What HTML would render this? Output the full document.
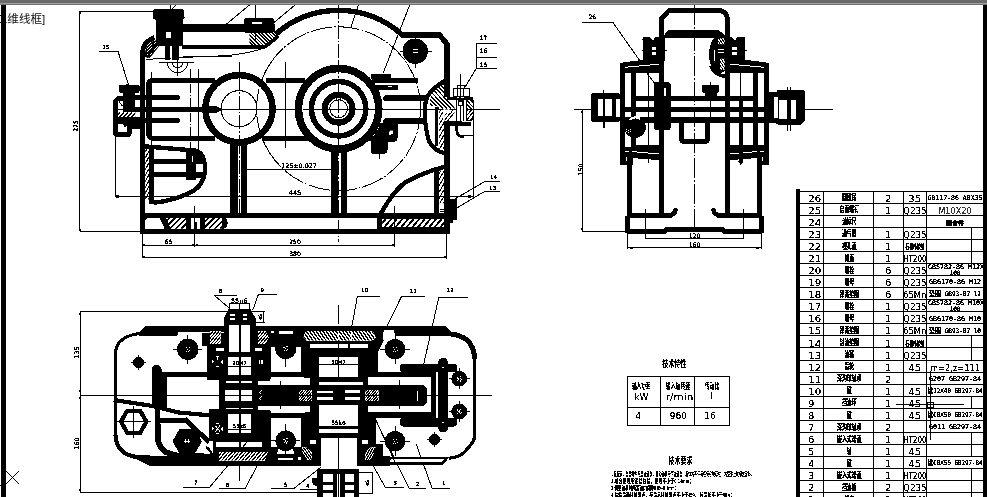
<!DOCTYPE html>
<html><head><meta charset="utf-8"><title>减速器装配图</title>
<style>
html,body{margin:0;padding:0;background:#fff;overflow:hidden}
svg{display:block;position:absolute;left:0;top:0}
text{stroke:none}
.c{font-family:"Liberation Sans","Noto Sans CJK SC",sans-serif}
.s{font-family:"Liberation Serif","Noto Serif CJK SC",serif}
.m{font-family:"DejaVu Sans Mono","Liberation Mono","Noto Sans CJK SC",monospace;font-weight:400}
.n{font-family:"DejaVu Sans","Liberation Sans",sans-serif;font-weight:400}
</style></head><body>
<svg width="987" height="497" viewBox="0 0 987 497" shape-rendering="crispEdges" stroke="#000" stroke-linecap="butt" text-rendering="optimizeSpeed">
<defs><filter id="thr" x="-5%" y="-20%" width="110%" height="140%" color-interpolation-filters="sRGB"><feComponentTransfer><feFuncA type="discrete" tableValues="0 0 1 1 1"/></feComponentTransfer></filter><filter id="thr2" x="-5%" y="-20%" width="110%" height="140%" color-interpolation-filters="sRGB"><feComponentTransfer><feFuncA type="discrete" tableValues="0 1 1 1"/></feComponentTransfer></filter><filter id="thr3" x="-5%" y="-20%" width="110%" height="140%" color-interpolation-filters="sRGB"><feComponentTransfer><feFuncA type="discrete" tableValues="0 0 1 1 1 1"/></feComponentTransfer></filter><filter id="g0" x="-5%" y="-20%" width="110%" height="140%"><feOffset dx="0" dy="0"/></filter></defs>
<rect x="0" y="0" width="987" height="497" fill="#fff" stroke="none"/>
<rect x="0" y="0" width="987" height="3" fill="#696969" stroke="none" />
<rect x="0" y="3" width="987" height="1" fill="#a0a0a0" stroke="none" />
<rect x="0" y="4" width="987" height="1" fill="#727272" stroke="none" />
<text x="45.3" y="23.4" font-size="11.6" text-anchor="end" class="c" fill="#111" font-weight="400" filter="url(#g0)">二维线框]</text>
<rect x="1" y="5" width="5" height="492" fill="#000" stroke="none" />
<rect x="983" y="5" width="4" height="492" fill="#000" stroke="none" />
<line x1="6" y1="471" x2="19" y2="484" stroke-width="1" />
<line x1="6" y1="484" x2="19" y2="471" stroke-width="1" />
<line x1="0" y1="485" x2="3" y2="485" stroke-width="1" />
<rect x="796.3" y="188.9" width="3.8" height="308.1" fill="#000" stroke="none" />
<line x1="800" y1="191" x2="983.2" y2="191" stroke-width="1" />
<line x1="800" y1="203.07" x2="983.2" y2="203.07" stroke-width="1" />
<line x1="800" y1="215.15" x2="983.2" y2="215.15" stroke-width="1" />
<line x1="800" y1="227.22" x2="983.2" y2="227.22" stroke-width="1" />
<line x1="800" y1="239.3" x2="983.2" y2="239.3" stroke-width="1" />
<line x1="800" y1="251.38" x2="983.2" y2="251.38" stroke-width="1" />
<line x1="800" y1="263.45" x2="983.2" y2="263.45" stroke-width="1" />
<line x1="800" y1="275.52" x2="983.2" y2="275.52" stroke-width="1" />
<line x1="800" y1="287.6" x2="983.2" y2="287.6" stroke-width="1" />
<line x1="800" y1="299.68" x2="983.2" y2="299.68" stroke-width="1" />
<line x1="800" y1="311.75" x2="983.2" y2="311.75" stroke-width="1" />
<line x1="800" y1="323.82" x2="983.2" y2="323.82" stroke-width="1" />
<line x1="800" y1="335.9" x2="983.2" y2="335.9" stroke-width="1" />
<line x1="800" y1="347.98" x2="983.2" y2="347.98" stroke-width="1" />
<line x1="800" y1="360.05" x2="983.2" y2="360.05" stroke-width="1" />
<line x1="800" y1="372.12" x2="983.2" y2="372.12" stroke-width="1" />
<line x1="800" y1="384.2" x2="983.2" y2="384.2" stroke-width="1" />
<line x1="800" y1="396.27" x2="983.2" y2="396.27" stroke-width="1" />
<line x1="800" y1="408.35" x2="983.2" y2="408.35" stroke-width="1" />
<line x1="800" y1="420.42" x2="983.2" y2="420.42" stroke-width="1" />
<line x1="800" y1="432.5" x2="983.2" y2="432.5" stroke-width="1" />
<line x1="800" y1="444.57" x2="983.2" y2="444.57" stroke-width="1" />
<line x1="800" y1="456.65" x2="983.2" y2="456.65" stroke-width="1" />
<line x1="800" y1="468.72" x2="983.2" y2="468.72" stroke-width="1" />
<line x1="800" y1="480.8" x2="983.2" y2="480.8" stroke-width="1" />
<line x1="800" y1="492.88" x2="983.2" y2="492.88" stroke-width="1" />
<line x1="823.8" y1="191" x2="823.8" y2="497" stroke-width="1" />
<line x1="873.4" y1="191" x2="873.4" y2="497" stroke-width="1" />
<line x1="903.2" y1="191" x2="903.2" y2="497" stroke-width="1" />
<line x1="926.4" y1="191" x2="926.4" y2="497" stroke-width="1" />
<line x1="971.5" y1="227.22" x2="971.5" y2="239.3" stroke-width="1" />
<line x1="971.5" y1="239.3" x2="971.5" y2="251.38" stroke-width="1" />
<line x1="971.5" y1="251.38" x2="971.5" y2="263.45" stroke-width="1" />
<line x1="971.5" y1="335.9" x2="971.5" y2="347.97" stroke-width="1" />
<line x1="971.5" y1="347.98" x2="971.5" y2="360.05" stroke-width="1" />
<line x1="971.5" y1="396.27" x2="971.5" y2="408.35" stroke-width="1" />
<line x1="971.5" y1="432.5" x2="971.5" y2="444.57" stroke-width="1" />
<line x1="971.5" y1="444.57" x2="971.5" y2="456.65" stroke-width="1" />
<line x1="971.5" y1="468.72" x2="971.5" y2="480.8" stroke-width="1" />
<line x1="971.5" y1="480.8" x2="971.5" y2="492.87" stroke-width="1" />
<line x1="971.5" y1="492.88" x2="971.5" y2="504.95" stroke-width="1" />
<text x="808.3" y="201.6" font-size="8.8" text-anchor="start" class="n" textLength="13" lengthAdjust="spacingAndGlyphs" filter="url(#thr)">26</text>
<text x="849.3" y="200.2" font-size="7.8" text-anchor="middle" class="c" font-weight="900" textLength="14.7" lengthAdjust="spacingAndGlyphs" filter="url(#thr)">圆锥销</text>
<text x="888.3" y="201.6" font-size="8.8" text-anchor="middle" class="n" textLength="6.5" lengthAdjust="spacingAndGlyphs" filter="url(#thr)">2</text>
<text x="914.8" y="201.6" font-size="8.8" text-anchor="middle" class="n" textLength="13" lengthAdjust="spacingAndGlyphs" filter="url(#thr)">35</text>
<text x="955" y="199.8" font-size="6.4" text-anchor="middle" class="m" textLength="55" lengthAdjust="spacingAndGlyphs" filter="url(#thr2)">GB117-86 A8X35</text>
<text x="808.3" y="213.67" font-size="8.8" text-anchor="start" class="n" textLength="13" lengthAdjust="spacingAndGlyphs" filter="url(#thr)">25</text>
<text x="849.3" y="212.27" font-size="7.8" text-anchor="middle" class="c" font-weight="900" textLength="19.6" lengthAdjust="spacingAndGlyphs" filter="url(#thr)">启盖螺钉</text>
<text x="888.3" y="213.67" font-size="8.8" text-anchor="middle" class="n" textLength="6.5" lengthAdjust="spacingAndGlyphs" filter="url(#thr)">1</text>
<text x="903" y="213.67" font-size="8.6" text-anchor="start" class="n" textLength="23.6" lengthAdjust="spacingAndGlyphs" filter="url(#thr)">Q235</text>
<text x="955" y="213.67" font-size="8.2" text-anchor="middle" class="n" fill="#333" filter="url(#thr)">M10X20</text>
<text x="808.3" y="225.75" font-size="8.8" text-anchor="start" class="n" textLength="13" lengthAdjust="spacingAndGlyphs" filter="url(#thr)">24</text>
<text x="849.3" y="224.35" font-size="7.8" text-anchor="middle" class="c" font-weight="900" textLength="14.7" lengthAdjust="spacingAndGlyphs" filter="url(#thr)">油标尺</text>
<text x="955" y="224.55" font-size="6.2" text-anchor="middle" class="c" font-weight="900" filter="url(#thr2)">组合件</text>
<text x="808.3" y="237.82" font-size="8.8" text-anchor="start" class="n" textLength="13" lengthAdjust="spacingAndGlyphs" filter="url(#thr)">23</text>
<text x="849.3" y="236.42" font-size="7.8" text-anchor="middle" class="c" font-weight="900" textLength="14.7" lengthAdjust="spacingAndGlyphs" filter="url(#thr)">通气器</text>
<text x="888.3" y="237.82" font-size="8.8" text-anchor="middle" class="n" textLength="6.5" lengthAdjust="spacingAndGlyphs" filter="url(#thr)">1</text>
<text x="903" y="237.82" font-size="8.6" text-anchor="start" class="n" textLength="23.6" lengthAdjust="spacingAndGlyphs" filter="url(#thr)">Q235</text>
<text x="808.3" y="249.9" font-size="8.8" text-anchor="start" class="n" textLength="13" lengthAdjust="spacingAndGlyphs" filter="url(#thr)">22</text>
<text x="849.3" y="248.5" font-size="7.8" text-anchor="middle" class="c" font-weight="900" textLength="14.7" lengthAdjust="spacingAndGlyphs" filter="url(#thr)">视孔盖</text>
<text x="888.3" y="249.9" font-size="8.8" text-anchor="middle" class="n" textLength="6.5" lengthAdjust="spacingAndGlyphs" filter="url(#thr)">1</text>
<text x="915" y="249.1" font-size="7.4" text-anchor="middle" class="c" font-weight="700" textLength="19.5" lengthAdjust="spacingAndGlyphs" filter="url(#thr)">石棉橡胶纸</text>
<text x="808.3" y="261.98" font-size="8.8" text-anchor="start" class="n" textLength="13" lengthAdjust="spacingAndGlyphs" filter="url(#thr)">21</text>
<text x="849.3" y="260.57" font-size="7.8" text-anchor="middle" class="c" font-weight="900" textLength="9.8" lengthAdjust="spacingAndGlyphs" filter="url(#thr)">箱盖</text>
<text x="888.3" y="261.98" font-size="8.8" text-anchor="middle" class="n" textLength="6.5" lengthAdjust="spacingAndGlyphs" filter="url(#thr)">1</text>
<text x="903" y="261.98" font-size="8.6" text-anchor="start" class="n" textLength="23.6" lengthAdjust="spacingAndGlyphs" filter="url(#thr)">HT200</text>
<text x="808.3" y="274.05" font-size="8.8" text-anchor="start" class="n" textLength="13" lengthAdjust="spacingAndGlyphs" filter="url(#thr)">20</text>
<text x="849.3" y="272.65" font-size="7.8" text-anchor="middle" class="c" font-weight="900" textLength="9.8" lengthAdjust="spacingAndGlyphs" filter="url(#thr)">螺栓</text>
<text x="888.3" y="274.05" font-size="8.8" text-anchor="middle" class="n" textLength="6.5" lengthAdjust="spacingAndGlyphs" filter="url(#thr)">6</text>
<text x="903" y="274.05" font-size="8.6" text-anchor="start" class="n" textLength="23.6" lengthAdjust="spacingAndGlyphs" filter="url(#thr)">Q235</text>
<text x="928" y="268.85" font-size="6.2" text-anchor="start" class="m" textLength="56" lengthAdjust="spacingAndGlyphs" filter="url(#thr2)">GB5782-86 M12X</text>
<text x="955" y="275.05" font-size="6.2" text-anchor="middle" class="m" filter="url(#thr2)">100</text>
<text x="808.3" y="286.12" font-size="8.8" text-anchor="start" class="n" textLength="13" lengthAdjust="spacingAndGlyphs" filter="url(#thr)">19</text>
<text x="849.3" y="284.72" font-size="7.8" text-anchor="middle" class="c" font-weight="900" textLength="9.8" lengthAdjust="spacingAndGlyphs" filter="url(#thr)">螺母</text>
<text x="888.3" y="286.12" font-size="8.8" text-anchor="middle" class="n" textLength="6.5" lengthAdjust="spacingAndGlyphs" filter="url(#thr)">6</text>
<text x="903" y="286.12" font-size="8.6" text-anchor="start" class="n" textLength="23.6" lengthAdjust="spacingAndGlyphs" filter="url(#thr)">Q235</text>
<text x="955" y="284.32" font-size="6.4" text-anchor="middle" class="m" textLength="52" lengthAdjust="spacingAndGlyphs" filter="url(#thr2)">GB6170-86 M12</text>
<text x="808.3" y="298.2" font-size="8.8" text-anchor="start" class="n" textLength="13" lengthAdjust="spacingAndGlyphs" filter="url(#thr)">18</text>
<text x="849.3" y="296.8" font-size="7.8" text-anchor="middle" class="c" font-weight="900" textLength="19.6" lengthAdjust="spacingAndGlyphs" filter="url(#thr)">弹簧垫圈</text>
<text x="888.3" y="298.2" font-size="8.8" text-anchor="middle" class="n" textLength="6.5" lengthAdjust="spacingAndGlyphs" filter="url(#thr)">6</text>
<text x="903" y="298.2" font-size="8.6" text-anchor="start" class="n" textLength="23.6" lengthAdjust="spacingAndGlyphs" filter="url(#thr)">65Mn</text>
<text x="955" y="296.4" font-size="6.4" text-anchor="middle" class="m" textLength="52" lengthAdjust="spacingAndGlyphs" filter="url(#thr2)">垫圈 GB93-87 12</text>
<text x="808.3" y="310.28" font-size="8.8" text-anchor="start" class="n" textLength="13" lengthAdjust="spacingAndGlyphs" filter="url(#thr)">17</text>
<text x="849.3" y="308.88" font-size="7.8" text-anchor="middle" class="c" font-weight="900" textLength="9.8" lengthAdjust="spacingAndGlyphs" filter="url(#thr)">螺栓</text>
<text x="888.3" y="310.28" font-size="8.8" text-anchor="middle" class="n" textLength="6.5" lengthAdjust="spacingAndGlyphs" filter="url(#thr)">1</text>
<text x="903" y="310.28" font-size="8.6" text-anchor="start" class="n" textLength="23.6" lengthAdjust="spacingAndGlyphs" filter="url(#thr)">Q235</text>
<text x="928" y="305.07" font-size="6.2" text-anchor="start" class="m" textLength="56" lengthAdjust="spacingAndGlyphs" filter="url(#thr2)">GB5782-86 M10X</text>
<text x="955" y="311.28" font-size="6.2" text-anchor="middle" class="m" filter="url(#thr2)">100</text>
<text x="808.3" y="322.35" font-size="8.8" text-anchor="start" class="n" textLength="13" lengthAdjust="spacingAndGlyphs" filter="url(#thr)">16</text>
<text x="849.3" y="320.95" font-size="7.8" text-anchor="middle" class="c" font-weight="900" textLength="9.8" lengthAdjust="spacingAndGlyphs" filter="url(#thr)">螺母</text>
<text x="888.3" y="322.35" font-size="8.8" text-anchor="middle" class="n" textLength="6.5" lengthAdjust="spacingAndGlyphs" filter="url(#thr)">1</text>
<text x="903" y="322.35" font-size="8.6" text-anchor="start" class="n" textLength="23.6" lengthAdjust="spacingAndGlyphs" filter="url(#thr)">Q235</text>
<text x="955" y="320.55" font-size="6.4" text-anchor="middle" class="m" textLength="52" lengthAdjust="spacingAndGlyphs" filter="url(#thr2)">GB6170-86 M10</text>
<text x="808.3" y="334.43" font-size="8.8" text-anchor="start" class="n" textLength="13" lengthAdjust="spacingAndGlyphs" filter="url(#thr)">15</text>
<text x="849.3" y="333.02" font-size="7.8" text-anchor="middle" class="c" font-weight="900" textLength="19.6" lengthAdjust="spacingAndGlyphs" filter="url(#thr)">弹簧垫圈</text>
<text x="888.3" y="334.43" font-size="8.8" text-anchor="middle" class="n" textLength="6.5" lengthAdjust="spacingAndGlyphs" filter="url(#thr)">1</text>
<text x="903" y="334.43" font-size="8.6" text-anchor="start" class="n" textLength="23.6" lengthAdjust="spacingAndGlyphs" filter="url(#thr)">65Mn</text>
<text x="955" y="332.62" font-size="6.4" text-anchor="middle" class="m" textLength="52" lengthAdjust="spacingAndGlyphs" filter="url(#thr2)">垫圈 GB93-87 10</text>
<text x="808.3" y="346.5" font-size="8.8" text-anchor="start" class="n" textLength="13" lengthAdjust="spacingAndGlyphs" filter="url(#thr)">14</text>
<text x="849.3" y="345.1" font-size="7.8" text-anchor="middle" class="c" font-weight="900" textLength="19.6" lengthAdjust="spacingAndGlyphs" filter="url(#thr)">封油垫圈</text>
<text x="888.3" y="346.5" font-size="8.8" text-anchor="middle" class="n" textLength="6.5" lengthAdjust="spacingAndGlyphs" filter="url(#thr)">1</text>
<text x="915" y="345.7" font-size="7.4" text-anchor="middle" class="c" font-weight="700" textLength="19.5" lengthAdjust="spacingAndGlyphs" filter="url(#thr)">石棉橡胶纸</text>
<text x="808.3" y="358.58" font-size="8.8" text-anchor="start" class="n" textLength="13" lengthAdjust="spacingAndGlyphs" filter="url(#thr)">13</text>
<text x="849.3" y="357.18" font-size="7.8" text-anchor="middle" class="c" font-weight="900" textLength="9.8" lengthAdjust="spacingAndGlyphs" filter="url(#thr)">油塞</text>
<text x="888.3" y="358.58" font-size="8.8" text-anchor="middle" class="n" textLength="6.5" lengthAdjust="spacingAndGlyphs" filter="url(#thr)">1</text>
<text x="903" y="358.58" font-size="8.6" text-anchor="start" class="n" textLength="23.6" lengthAdjust="spacingAndGlyphs" filter="url(#thr)">Q235</text>
<text x="808.3" y="370.65" font-size="8.8" text-anchor="start" class="n" textLength="13" lengthAdjust="spacingAndGlyphs" filter="url(#thr)">12</text>
<text x="849.3" y="369.25" font-size="7.8" text-anchor="middle" class="c" font-weight="900" textLength="9.8" lengthAdjust="spacingAndGlyphs" filter="url(#thr)">齿轮</text>
<text x="888.3" y="370.65" font-size="8.8" text-anchor="middle" class="n" textLength="6.5" lengthAdjust="spacingAndGlyphs" filter="url(#thr)">1</text>
<text x="914.8" y="370.65" font-size="8.8" text-anchor="middle" class="n" textLength="13" lengthAdjust="spacingAndGlyphs" filter="url(#thr)">45</text>
<text x="955" y="370.65" font-size="8.6" text-anchor="middle" class="n" textLength="50" lengthAdjust="spacingAndGlyphs" filter="url(#thr)">m=2,z=111</text>
<text x="808.3" y="382.73" font-size="8.8" text-anchor="start" class="n" textLength="13" lengthAdjust="spacingAndGlyphs" filter="url(#thr)">11</text>
<text x="849.3" y="381.32" font-size="7.8" text-anchor="middle" class="c" font-weight="900" textLength="24.5" lengthAdjust="spacingAndGlyphs" filter="url(#thr)">深沟球轴承</text>
<text x="888.3" y="382.73" font-size="8.8" text-anchor="middle" class="n" textLength="6.5" lengthAdjust="spacingAndGlyphs" filter="url(#thr)">2</text>
<text x="955" y="380.93" font-size="6.4" text-anchor="middle" class="m" textLength="52" lengthAdjust="spacingAndGlyphs" filter="url(#thr2)">6207 GB297-84</text>
<text x="808.3" y="394.8" font-size="8.8" text-anchor="start" class="n" textLength="13" lengthAdjust="spacingAndGlyphs" filter="url(#thr)">10</text>
<text x="849.3" y="393.4" font-size="7.8" text-anchor="middle" class="c" font-weight="900" textLength="4.9" lengthAdjust="spacingAndGlyphs" filter="url(#thr)">键</text>
<text x="888.3" y="394.8" font-size="8.8" text-anchor="middle" class="n" textLength="6.5" lengthAdjust="spacingAndGlyphs" filter="url(#thr)">1</text>
<text x="914.8" y="394.8" font-size="8.8" text-anchor="middle" class="n" textLength="13" lengthAdjust="spacingAndGlyphs" filter="url(#thr)">45</text>
<text x="955" y="393" font-size="6.4" text-anchor="middle" class="m" textLength="55" lengthAdjust="spacingAndGlyphs" filter="url(#thr2)">键12X40 GB297-84</text>
<text x="808.3" y="406.88" font-size="8.8" text-anchor="start" class="n" textLength="6" lengthAdjust="spacingAndGlyphs" filter="url(#thr)">9</text>
<text x="849.3" y="405.47" font-size="7.8" text-anchor="middle" class="c" font-weight="900" textLength="14.7" lengthAdjust="spacingAndGlyphs" filter="url(#thr)">挡油环</text>
<text x="888.3" y="406.88" font-size="8.8" text-anchor="middle" class="n" textLength="6.5" lengthAdjust="spacingAndGlyphs" filter="url(#thr)">1</text>
<text x="914.8" y="406.88" font-size="8.8" text-anchor="middle" class="n" textLength="13" lengthAdjust="spacingAndGlyphs" filter="url(#thr)">45</text>
<text x="808.3" y="418.95" font-size="8.8" text-anchor="start" class="n" textLength="6" lengthAdjust="spacingAndGlyphs" filter="url(#thr)">8</text>
<text x="849.3" y="417.55" font-size="7.8" text-anchor="middle" class="c" font-weight="900" textLength="4.9" lengthAdjust="spacingAndGlyphs" filter="url(#thr)">键</text>
<text x="888.3" y="418.95" font-size="8.8" text-anchor="middle" class="n" textLength="6.5" lengthAdjust="spacingAndGlyphs" filter="url(#thr)">1</text>
<text x="914.8" y="418.95" font-size="8.8" text-anchor="middle" class="n" textLength="13" lengthAdjust="spacingAndGlyphs" filter="url(#thr)">45</text>
<text x="955" y="417.15" font-size="6.4" text-anchor="middle" class="m" textLength="55" lengthAdjust="spacingAndGlyphs" filter="url(#thr2)">键C8X50 GB297-84</text>
<text x="808.3" y="431.02" font-size="8.8" text-anchor="start" class="n" textLength="6" lengthAdjust="spacingAndGlyphs" filter="url(#thr)">7</text>
<text x="849.3" y="429.62" font-size="7.8" text-anchor="middle" class="c" font-weight="900" textLength="24.5" lengthAdjust="spacingAndGlyphs" filter="url(#thr)">深沟球轴承</text>
<text x="888.3" y="431.02" font-size="8.8" text-anchor="middle" class="n" textLength="6.5" lengthAdjust="spacingAndGlyphs" filter="url(#thr)">2</text>
<text x="955" y="429.22" font-size="6.4" text-anchor="middle" class="m" textLength="52" lengthAdjust="spacingAndGlyphs" filter="url(#thr2)">6011 GB297-84</text>
<text x="808.3" y="443.1" font-size="8.8" text-anchor="start" class="n" textLength="6" lengthAdjust="spacingAndGlyphs" filter="url(#thr)">6</text>
<text x="849.3" y="441.7" font-size="7.8" text-anchor="middle" class="c" font-weight="900" textLength="24.5" lengthAdjust="spacingAndGlyphs" filter="url(#thr)">嵌入式端盖</text>
<text x="888.3" y="443.1" font-size="8.8" text-anchor="middle" class="n" textLength="6.5" lengthAdjust="spacingAndGlyphs" filter="url(#thr)">1</text>
<text x="903" y="443.1" font-size="8.6" text-anchor="start" class="n" textLength="23.6" lengthAdjust="spacingAndGlyphs" filter="url(#thr)">HT200</text>
<text x="808.3" y="455.18" font-size="8.8" text-anchor="start" class="n" textLength="6" lengthAdjust="spacingAndGlyphs" filter="url(#thr)">5</text>
<text x="849.3" y="453.77" font-size="7.8" text-anchor="middle" class="c" font-weight="900" textLength="4.9" lengthAdjust="spacingAndGlyphs" filter="url(#thr)">轴</text>
<text x="888.3" y="455.18" font-size="8.8" text-anchor="middle" class="n" textLength="6.5" lengthAdjust="spacingAndGlyphs" filter="url(#thr)">1</text>
<text x="914.8" y="455.18" font-size="8.8" text-anchor="middle" class="n" textLength="13" lengthAdjust="spacingAndGlyphs" filter="url(#thr)">45</text>
<text x="808.3" y="467.25" font-size="8.8" text-anchor="start" class="n" textLength="6" lengthAdjust="spacingAndGlyphs" filter="url(#thr)">4</text>
<text x="849.3" y="465.85" font-size="7.8" text-anchor="middle" class="c" font-weight="900" textLength="4.9" lengthAdjust="spacingAndGlyphs" filter="url(#thr)">键</text>
<text x="888.3" y="467.25" font-size="8.8" text-anchor="middle" class="n" textLength="6.5" lengthAdjust="spacingAndGlyphs" filter="url(#thr)">1</text>
<text x="914.8" y="467.25" font-size="8.8" text-anchor="middle" class="n" textLength="13" lengthAdjust="spacingAndGlyphs" filter="url(#thr)">45</text>
<text x="955" y="465.45" font-size="6.4" text-anchor="middle" class="m" textLength="55" lengthAdjust="spacingAndGlyphs" filter="url(#thr2)">键C8X55 GB297-84</text>
<text x="808.3" y="479.32" font-size="8.8" text-anchor="start" class="n" textLength="6" lengthAdjust="spacingAndGlyphs" filter="url(#thr)">3</text>
<text x="849.3" y="477.92" font-size="7.8" text-anchor="middle" class="c" font-weight="900" textLength="24.5" lengthAdjust="spacingAndGlyphs" filter="url(#thr)">嵌入式端盖</text>
<text x="888.3" y="479.32" font-size="8.8" text-anchor="middle" class="n" textLength="6.5" lengthAdjust="spacingAndGlyphs" filter="url(#thr)">1</text>
<text x="903" y="479.32" font-size="8.6" text-anchor="start" class="n" textLength="23.6" lengthAdjust="spacingAndGlyphs" filter="url(#thr)">HT200</text>
<text x="808.3" y="491.4" font-size="8.8" text-anchor="start" class="n" textLength="6" lengthAdjust="spacingAndGlyphs" filter="url(#thr)">2</text>
<text x="849.3" y="490" font-size="7.8" text-anchor="middle" class="c" font-weight="900" textLength="14.7" lengthAdjust="spacingAndGlyphs" filter="url(#thr)">挡油板</text>
<text x="888.3" y="491.4" font-size="8.8" text-anchor="middle" class="n" textLength="6.5" lengthAdjust="spacingAndGlyphs" filter="url(#thr)">2</text>
<text x="903" y="491.4" font-size="8.6" text-anchor="start" class="n" textLength="23.6" lengthAdjust="spacingAndGlyphs" filter="url(#thr)">Q235</text>
<text x="808.3" y="503.48" font-size="8.8" text-anchor="start" class="n" textLength="6" lengthAdjust="spacingAndGlyphs" filter="url(#thr)">1</text>
<text x="849.3" y="502.07" font-size="7.8" text-anchor="middle" class="c" font-weight="900" textLength="9.8" lengthAdjust="spacingAndGlyphs" filter="url(#thr)">箱座</text>
<text x="888.3" y="503.48" font-size="8.8" text-anchor="middle" class="n" textLength="6.5" lengthAdjust="spacingAndGlyphs" filter="url(#thr)">1</text>
<text x="903" y="503.48" font-size="8.6" text-anchor="start" class="n" textLength="23.6" lengthAdjust="spacingAndGlyphs" filter="url(#thr)">HT200</text>
<line x1="895.5" y1="404.9" x2="964" y2="404.9" stroke-width="1" />
<line x1="930.3" y1="371" x2="930.3" y2="440" stroke-width="1" />
<rect x="927" y="402.5" width="6.5" height="5" fill="none" stroke-width="1" />
<rect x="627.3" y="376.3" width="102.4" height="49" fill="none" stroke-width="1" />
<line x1="660.5" y1="376.3" x2="660.5" y2="425.3" stroke-width="1" />
<line x1="694.7" y1="376.3" x2="694.7" y2="425.3" stroke-width="1" />
<line x1="627.3" y1="407.2" x2="729.7" y2="407.2" stroke-width="1" />
<text x="674.2" y="367.4" font-size="9.4" text-anchor="middle" class="c" font-weight="700" textLength="23.8" lengthAdjust="spacingAndGlyphs" filter="url(#thr)">技术特性</text>
<text x="641.2" y="389.4" font-size="7.6" text-anchor="middle" class="c" font-weight="700" textLength="18" lengthAdjust="spacingAndGlyphs" filter="url(#thr)">输入功率</text>
<text x="678" y="389.4" font-size="7.6" text-anchor="middle" class="c" font-weight="700" textLength="24.5" lengthAdjust="spacingAndGlyphs" filter="url(#thr)">输入轴转速</text>
<text x="712.1" y="389.4" font-size="7.6" text-anchor="middle" class="c" font-weight="700" textLength="14" lengthAdjust="spacingAndGlyphs" filter="url(#thr)">传动比</text>
<text x="641.4" y="400.2" font-size="9" text-anchor="middle" class="n" filter="url(#thr)">kW</text>
<text x="679.5" y="399.6" font-size="8.8" text-anchor="middle" class="n" textLength="27.5" lengthAdjust="spacingAndGlyphs" filter="url(#thr)">r/min</text>
<text x="711.9" y="399.4" font-size="9.4" text-anchor="middle" class="n" filter="url(#thr)">l</text>
<text x="638.2" y="418.8" font-size="9" text-anchor="middle" class="n" filter="url(#thr)">4</text>
<text x="678.4" y="419.4" font-size="9" text-anchor="middle" class="n" filter="url(#thr)">960</text>
<text x="710" y="418.8" font-size="9" text-anchor="middle" class="n" filter="url(#thr)">16</text>
<text x="680.5" y="464.2" font-size="9.4" text-anchor="middle" class="c" font-weight="700" textLength="23.8" lengthAdjust="spacingAndGlyphs" filter="url(#thr)">技术要求</text>
<text x="611.2" y="476.4" font-size="5.4" text-anchor="start" class="c" font-weight="700" textLength="142.6" lengthAdjust="spacingAndGlyphs" filter="url(#thr)">1.装配前，全部零件用煤油清洗，滚动轴承用汽油清洗，箱体内不许有任何杂物存在，内壁涂上防侵蚀涂料；</text>
<text x="611.2" y="482.8" font-size="5.4" text-anchor="start" class="c" font-weight="700" textLength="82" lengthAdjust="spacingAndGlyphs" filter="url(#thr)">2.啮合侧隙用铅丝检验，侧隙不小于0.14mm；</text>
<text x="611.2" y="489.5" font-size="5.4" text-anchor="start" class="c" font-weight="700" textLength="67" lengthAdjust="spacingAndGlyphs" filter="url(#thr)">3.调整轴承时所留轴向间隙0.05~0.1mm；</text>
<text x="611.2" y="496.6" font-size="5.4" text-anchor="start" class="c" font-weight="700" textLength="123.4" lengthAdjust="spacingAndGlyphs" filter="url(#thr)">4.检验齿面接触斑点，按齿高接触斑点不小于45%，按齿长不小于60%；</text>
<line x1="114" y1="109.5" x2="500" y2="109.5" stroke-width="1" />
<line x1="338.6" y1="5" x2="338.6" y2="241.6" stroke-width="1" stroke-dasharray="14 2 1.5 2"/>
<line x1="239" y1="62" x2="239" y2="215" stroke-width="1" stroke-dasharray="14 2 1.5 2"/>
<circle cx="338.6" cy="108.7" r="82" stroke-width="1" fill="none" stroke-dasharray="22 2 1.5 2"/>
<line x1="151.3" y1="72" x2="151.3" y2="204" stroke-width="1" />
<line x1="190.2" y1="69" x2="190.2" y2="150" stroke-width="1" stroke-dasharray="9 2 1.5 2"/>
<line x1="198.5" y1="69" x2="198.5" y2="150" stroke-width="1" />
<line x1="285.5" y1="62" x2="285.5" y2="148" stroke-width="1" />
<line x1="379.8" y1="118" x2="379.8" y2="158.5" stroke-width="1" />
<line x1="226.6" y1="24" x2="249.4" y2="5" stroke-width="1" />
<line x1="272.2" y1="24" x2="295" y2="5" stroke-width="1" />
<line x1="172" y1="9" x2="176" y2="5" stroke-width="1" />
<line x1="170.3" y1="9" x2="170.3" y2="5" stroke-width="1" />
<line x1="350.9" y1="27.5" x2="358.4" y2="5" stroke-width="1" />
<line x1="383.4" y1="72.5" x2="409.7" y2="5" stroke-width="1" />
<line x1="255.5" y1="5" x2="255.5" y2="40" stroke-width="1" />
<path d="M145.6 59.5 Q176 57.5 226.6 55.7 Q250 53 264.6 48" stroke-width="1" fill="none" />
<line x1="183" y1="56.2" x2="232" y2="56.2" stroke-width="1" />
<line x1="79.5" y1="11.3" x2="79.5" y2="231.3" stroke-width="1" />
<line x1="79.5" y1="11.3" x2="153" y2="11.3" stroke-width="1" />
<line x1="79.5" y1="231.3" x2="140" y2="231.3" stroke-width="1" />
<rect x="78.5" y="12" width="2" height="2" fill="#000" stroke="none"/>
<rect x="78.5" y="228.6" width="2" height="2" fill="#000" stroke="none"/>
<g filter="url(#thr2)"><text x="77.5" y="126" font-size="6" text-anchor="middle" class="n" transform="rotate(-90 77.5 126)">275</text></g>
<line x1="115.3" y1="137" x2="115.3" y2="196.5" stroke-width="1" />
<line x1="115.3" y1="196.3" x2="473.3" y2="196.3" stroke-width="1" />
<line x1="473.3" y1="100" x2="473.3" y2="196.5" stroke-width="1" />
<rect x="116.4" y="195.1" width="2.4" height="2.4" fill="#000" stroke="none"/>
<rect x="468.4" y="195.1" width="2.4" height="2.4" fill="#000" stroke="none"/>
<text x="295" y="194.6" font-size="6.6" text-anchor="middle" class="n" filter="url(#thr2)">445</text>
<line x1="246" y1="169.8" x2="331" y2="169.8" stroke-width="1" />
<text x="299" y="168" font-size="6.4" text-anchor="middle" class="n" filter="url(#thr2)">125±0.027</text>
<line x1="142.6" y1="233" x2="142.6" y2="258" stroke-width="1" />
<line x1="194.8" y1="206" x2="194.8" y2="246.6" stroke-width="1" />
<line x1="394.7" y1="205.6" x2="394.7" y2="246.6" stroke-width="1" />
<line x1="446.5" y1="233" x2="446.5" y2="258.5" stroke-width="1" />
<line x1="142.6" y1="245.2" x2="394.7" y2="245.2" stroke-width="1" />
<line x1="142.6" y1="257.3" x2="446.5" y2="257.3" stroke-width="1" />
<rect x="143.4" y="244.2" width="2" height="2" fill="#000" stroke="none"/>
<rect x="192" y="244.2" width="2" height="2" fill="#000" stroke="none"/>
<rect x="195.6" y="244.2" width="2" height="2" fill="#000" stroke="none"/>
<rect x="391.6" y="244.2" width="2" height="2" fill="#000" stroke="none"/>
<rect x="143.4" y="256.3" width="2" height="2" fill="#000" stroke="none"/>
<rect x="443.6" y="256.3" width="2" height="2" fill="#000" stroke="none"/>
<text x="168.5" y="244.4" font-size="6" text-anchor="middle" class="n" filter="url(#thr2)">65</text>
<text x="295" y="244.4" font-size="6" text-anchor="middle" class="n" filter="url(#thr2)">250</text>
<text x="295" y="256.4" font-size="6" text-anchor="middle" class="n" filter="url(#thr2)">380</text>
<text x="102.5" y="49.3" font-size="5.4" text-anchor="start" class="n" font-weight="700" filter="url(#thr2)">25</text>
<line x1="99" y1="51.2" x2="118" y2="51.2" stroke-width="1" />
<line x1="118" y1="51.2" x2="128.5" y2="85" stroke-width="1" />
<text x="479.7" y="39.5" font-size="6" text-anchor="start" class="n" filter="url(#thr2)">17</text>
<text x="479.7" y="53.3" font-size="6" text-anchor="start" class="n" filter="url(#thr2)">16</text>
<text x="479.7" y="67.3" font-size="6" text-anchor="start" class="n" filter="url(#thr2)">15</text>
<line x1="476" y1="43.8" x2="497" y2="43.8" stroke-width="1" />
<line x1="476" y1="57" x2="497" y2="57" stroke-width="1" />
<line x1="476" y1="68.8" x2="497" y2="68.8" stroke-width="1" />
<line x1="476" y1="43.8" x2="476" y2="68.8" stroke-width="1" />
<line x1="476" y1="68.8" x2="464.7" y2="87.6" stroke-width="1" />
<line x1="454.6" y1="199.1" x2="484.4" y2="181.8" stroke-width="1" />
<line x1="484.4" y1="181.8" x2="500" y2="181.8" stroke-width="1" />
<line x1="457" y1="208" x2="483.6" y2="191.9" stroke-width="1" />
<line x1="483.6" y1="191.9" x2="500" y2="191.9" stroke-width="1" />
<text x="490" y="179.4" font-size="5.6" text-anchor="start" class="n" filter="url(#thr2)">14</text>
<text x="489" y="189.6" font-size="5.6" text-anchor="start" class="n" filter="url(#thr2)">13</text>
<path d="M142.7 231 L142.7 52 Q142.7 42 154.5 37.5" stroke-width="4.6" fill="none" />
<path d="M446.95 231 L446.95 44 L439.5 35 L401 35" stroke-width="5.4" fill="none" />
<path d="M275.66 34.24 A95 95 0 0 1 402.17 34.81" stroke-width="5.4" fill="none" />
<rect x="140.2" y="212.8" width="309.5" height="5.1" fill="#000" stroke="none" />
<rect x="140.2" y="228.8" width="309.5" height="5" fill="#000" stroke="none" />
<path d="M160.2 217.5 L165.4 217.5 L170.4 229 L165.2 229 Z" stroke-width="1" fill="#000" />
<path d="M144.9 217.9 L147.4 217.9 L144.9 220.4 Z" stroke-width="1" fill="#000" />
<rect x="186" y="217" width="5" height="12" fill="#000" stroke="none" />
<rect x="200.1" y="217" width="4.5" height="12" fill="#000" stroke="none" />
<rect x="194" y="221.5" width="3.2" height="7.5" fill="#000" stroke="none" />
<path d="M222.7 217 L226 219 L227.2 223 L226 227 L222.7 229 Z" stroke-width="1" fill="#000" />
<clipPath id="h1"><path d="M165.4 217.9 L186 217.9 L186 228.8 L170.4 228.8 Z"/></clipPath>
<path d="M141.9 228.8 L152.8 217.9 M147.5 228.8 L158.4 217.9 M153.1 228.8 L164 217.9 M158.7 228.8 L169.6 217.9 M164.3 228.8 L175.2 217.9 M169.9 228.8 L180.8 217.9 M175.5 228.8 L186.4 217.9 M181.1 228.8 L192 217.9 M186.7 228.8 L197.6 217.9 M192.3 228.8 L203.2 217.9 M197.9 228.8 L208.8 217.9 M203.5 228.8 L214.4 217.9 M209.1 228.8 L220 217.9 " stroke-width="1.7" fill="none" clip-path="url(#h1)"/>
<clipPath id="h2"><path d="M204.6 217.9 L222.7 217.9 L222.7 228.8 L204.6 228.8 Z"/></clipPath>
<path d="M180.9 228.8 L191.8 217.9 M186.5 228.8 L197.4 217.9 M192.1 228.8 L203 217.9 M197.7 228.8 L208.6 217.9 M203.3 228.8 L214.2 217.9 M208.9 228.8 L219.8 217.9 M214.5 228.8 L225.4 217.9 M220.1 228.8 L231 217.9 M225.7 228.8 L236.6 217.9 M231.3 228.8 L242.2 217.9 M236.9 228.8 L247.8 217.9 M242.5 228.8 L253.4 217.9 " stroke-width="1.7" fill="none" clip-path="url(#h2)"/>
<rect x="377.4" y="212.5" width="4.8" height="18.5" fill="#000" stroke="none" />
<rect x="382" y="217.9" width="67" height="1.1" fill="#000" stroke="none" />
<clipPath id="h3"><path d="M382.2 219 L444.4 219 L444.4 227.2 L382.2 227.2 Z"/></clipPath>
<path d="M361.92 227.2 L368.8 219 M367.52 227.2 L374.4 219 M373.12 227.2 L380 219 M378.72 227.2 L385.6 219 M384.32 227.2 L391.2 219 M389.92 227.2 L396.8 219 M395.52 227.2 L402.4 219 M401.12 227.2 L408 219 M406.72 227.2 L413.6 219 M412.32 227.2 L419.2 219 M417.92 227.2 L424.8 219 M423.52 227.2 L430.4 219 M429.12 227.2 L436 219 M434.72 227.2 L441.6 219 M440.32 227.2 L447.2 219 M445.92 227.2 L452.8 219 M451.52 227.2 L458.4 219 M457.12 227.2 L464 219 M462.72 227.2 L469.6 219 M468.32 227.2 L475.2 219 " stroke-width="1.8" fill="none" clip-path="url(#h3)"/>
<rect x="382.2" y="227" width="63.8" height="2" fill="#000" stroke="none" />
<path d="M204 80.4 L152.5 80.4 Q148.2 80.4 148.2 85 L148.2 132 Q148.2 138.7 154.5 138.7 L215 138.7" stroke-width="4.6" fill="none" />
<line x1="202" y1="80.4" x2="215" y2="80.4" stroke-width="4.5" />
<line x1="266" y1="80.4" x2="305" y2="80.4" stroke-width="4.5" />
<line x1="372" y1="80.4" x2="418" y2="80.4" stroke-width="4.5" />
<rect x="370.6" y="73.8" width="20" height="4.7" fill="#000" stroke="none" />
<line x1="262" y1="138.7" x2="308" y2="138.7" stroke-width="4.6" />
<line x1="368" y1="138.7" x2="396" y2="138.7" stroke-width="4.6" />
<path d="M133 98.4 L118.5 98.4 L115.4 101.5 L115.4 132.6 Q115.4 134.8 117.8 134.8 L127 134.8 Q129.4 134.8 129.4 132.6 L129.4 126.4 L141 126.4" stroke-width="4.8" fill="none" />
<rect x="119.1" y="84.9" width="20.5" height="7.9" rx="1.8" fill="#000" stroke="none" />
<rect x="123.3" y="92" width="12.1" height="32.6" fill="#000" stroke="none" />
<rect x="126" y="83.6" width="3" height="1.4" fill="#000" stroke="none" />
<rect x="118.1" y="101" width="5.2" height="5.7" fill="#fff" stroke="none" />
<line x1="119" y1="101.6" x2="122.6" y2="106.2" stroke-width="1" />
<rect x="118.1" y="111.9" width="17.2" height="5.4" fill="#fff" stroke="none" />
<clipPath id="h4"><path d="M118.1 111.9 L135.3 111.9 L135.3 117.3 L118.1 117.3 Z"/></clipPath>
<path d="M103.47 117.3 L108 111.9 M107.47 117.3 L112 111.9 M111.47 117.3 L116 111.9 M115.47 117.3 L120 111.9 M119.47 117.3 L124 111.9 M123.47 117.3 L128 111.9 M127.47 117.3 L132 111.9 M131.47 117.3 L136 111.9 M135.47 117.3 L140 111.9 M139.47 117.3 L144 111.9 M143.47 117.3 L148 111.9 M147.47 117.3 L152 111.9 M151.47 117.3 L156 111.9 " stroke-width="1.5" fill="none" clip-path="url(#h4)"/>
<rect x="117.6" y="117.3" width="23.4" height="6.3" fill="#000" stroke="none" />
<path d="M124 123.6 L127.6 123.6 L125.4 126 L124 126 Z" stroke-width="1" fill="#000" />
<path d="M135 97.6 L177 97.6" stroke-width="5.6" fill="none" stroke-linecap="round"/>
<path d="M135 109.5 L215 109.5 L221 109.2" stroke-width="5.2" fill="none" />
<path d="M137 120.5 L177 120.5" stroke-width="5.8" fill="none" stroke-linecap="round"/>
<path d="M386 98.2 L425 98.2" stroke-width="5.8" fill="none" stroke-linecap="round"/>
<path d="M386 121.3 L424 121.3" stroke-width="5.8" fill="none" stroke-linecap="round"/>
<path d="M378 87.5 L396 87.5" stroke-width="5" fill="none" stroke-linecap="round"/>
<rect x="388" y="86.2" width="4" height="1" fill="#fff" stroke="none" />
<rect x="230.4" y="141" width="7.7" height="72" fill="#000" stroke="none" />
<rect x="240.6" y="141" width="6.4" height="72" fill="#000" stroke="none" />
<rect x="330.6" y="151" width="7.1" height="62" fill="#000" stroke="none" />
<rect x="340.6" y="151" width="6.6" height="62" fill="#000" stroke="none" />
<circle cx="239" cy="108.7" r="33.6" stroke-width="6.6" fill="#fff" />
<circle cx="239" cy="108.7" r="18" stroke-width="1" fill="none" />
<circle cx="338.6" cy="108.7" r="40.2" stroke-width="7.6" fill="#fff" />
<circle cx="338.6" cy="108.7" r="27.2" stroke-width="5.6" fill="none" />
<circle cx="338.6" cy="108.7" r="13.9" stroke-width="6.2" fill="none" />
<circle cx="338.6" cy="108.7" r="8.9" stroke-width="1" fill="none" />
<line x1="336.5" y1="98.2" x2="336.5" y2="101.4" stroke-width="1" />
<line x1="340.8" y1="98.2" x2="340.8" y2="101.4" stroke-width="1" />
<line x1="302.6" y1="109.5" x2="374.6" y2="109.5" stroke-width="1" />
<line x1="209" y1="109.5" x2="269" y2="109.5" stroke-width="1" />
<line x1="338.6" y1="60" x2="338.6" y2="150" stroke-width="1" stroke-dasharray="14 2 1.5 2"/>
<line x1="239" y1="76" x2="239" y2="141" stroke-width="1" stroke-dasharray="14 2 1.5 2"/>
<path d="M275.78 161.41 A82 82 0 0 1 277.66 53.83" stroke-width="1" fill="none" stroke-dasharray="22 2 1.5 2"/>
<path d="M204 106.9 L216.5 106.9 L221.5 109.5 L216.5 112.1 L204 112.1 Z" stroke-width="1" fill="#000" />
<rect x="153" y="8.9" width="31" height="8.8" rx="2.5" fill="#000" stroke="none" />
<rect x="156.4" y="17.2" width="26.4" height="28.4" fill="#000" stroke="none" />
<rect x="165.7" y="32" width="5.6" height="6" fill="#fff" stroke="none" />
<rect x="164.6" y="45" width="5.8" height="14.5" fill="#000" stroke="none" />
<rect x="171.6" y="45" width="6.9" height="14.5" fill="#000" stroke="none" />
<path d="M156.4 19.5 L153 17.7 L160 17.7 Z" stroke-width="1" fill="#000" />
<path d="M182.8 19.5 L184 17.7 L178 17.7 Z" stroke-width="1" fill="#000" />
<rect x="182.3" y="24" width="92.7" height="8" fill="#000" stroke="none" />
<rect x="182.3" y="45" width="82.3" height="4.4" fill="#000" stroke="none" />
<rect x="244.4" y="17.7" width="29.1" height="15.3" rx="1.5" fill="#000" stroke="none" />
<rect x="252" y="22.4" width="10" height="1.4" fill="#fff" stroke="none" />
<clipPath id="h5"><path d="M249.4 33 L275 33 L277.3 36 L264.6 45.6 L249.4 45.6 Z"/></clipPath>
<path d="M225.8 33 L238.8 46 M229.4 33 L242.4 46 M233 33 L246 46 M236.6 33 L249.6 46 M240.2 33 L253.2 46 M243.8 33 L256.8 46 M247.4 33 L260.4 46 M251 33 L264 46 M254.6 33 L267.6 46 M258.2 33 L271.2 46 M261.8 33 L274.8 46 M265.4 33 L278.4 46 M269 33 L282 46 M272.6 33 L285.6 46 M276.2 33 L289.2 46 M279.8 33 L292.8 46 M283.4 33 L296.4 46 M287 33 L300 46 M290.6 33 L303.6 46 M294.2 33 L307.2 46 " stroke-width="1.2" fill="none" clip-path="url(#h5)"/>
<path d="M264.6 47.2 L278.5 36" stroke-width="3.6" fill="none" />
<clipPath id="h6"><path d="M145 57 L145 52 Q146 42 158 39.5 L160 45 L150 58 Z"/></clipPath>
<path d="M99.69 38 L137.8 60 M102.29 38 L140.4 60 M104.89 38 L143 60 M107.49 38 L145.6 60 M110.09 38 L148.2 60 M112.69 38 L150.8 60 M115.29 38 L153.4 60 M117.89 38 L156 60 M120.49 38 L158.6 60 M123.09 38 L161.2 60 M125.69 38 L163.8 60 M128.29 38 L166.4 60 M130.89 38 L169 60 M133.49 38 L171.6 60 M136.09 38 L174.2 60 M138.69 38 L176.8 60 M141.29 38 L179.4 60 M143.89 38 L182 60 M146.49 38 L184.6 60 M149.09 38 L187.2 60 M151.69 38 L189.8 60 M154.29 38 L192.4 60 M156.89 38 L195 60 M159.49 38 L197.6 60 M162.09 38 L200.2 60 M164.69 38 L202.8 60 M167.29 38 L205.4 60 M169.89 38 L208 60 " stroke-width="1" fill="none" clip-path="url(#h6)"/>
<path d="M158.5 41 L147 57.5" stroke-width="2.2" fill="none" />
<path d="M167.2 62.3 A10.3 10.3 0 0 0 187.8 62.3" stroke-width="1" fill="none" />
<path d="M172 62.3 A5.5 5.5 0 0 0 183 62.3" stroke-width="1" fill="none" />
<line x1="159" y1="62.3" x2="194" y2="62.3" stroke-width="1" />
<line x1="177.5" y1="56" x2="177.5" y2="76.3" stroke-width="1" />
<circle cx="415.2" cy="51.2" r="12.7" stroke="none" fill="#000"/>
<line x1="400" y1="51.2" x2="432" y2="51.2" stroke-width="1" />
<line x1="415.2" y1="36" x2="415.2" y2="68" stroke-width="1" />
<rect x="412.8" y="48.8" width="4.8" height="1.2" fill="#fff" stroke="none" />
<rect x="412.8" y="52" width="4.8" height="1.4" fill="#fff" stroke="none" />
<clipPath id="h7"><path d="M145.2 149 L149.2 149 L149.2 199.6 L145.2 199.6 Z"/></clipPath>
<path d="M106.6 201 L137.2 148 M110 201 L140.6 148 M113.4 201 L144 148 M116.8 201 L147.4 148 M120.2 201 L150.8 148 M123.6 201 L154.2 148 M127 201 L157.6 148 M130.4 201 L161 148 M133.8 201 L164.4 148 M137.2 201 L167.8 148 M140.6 201 L171.2 148 M144 201 L174.6 148 M147.4 201 L178 148 M150.8 201 L181.4 148 M154.2 201 L184.8 148 M157.6 201 L188.2 148 M161 201 L191.6 148 " stroke-width="1.1" fill="none" clip-path="url(#h7)"/>
<rect x="149.2" y="149" width="4.6" height="55" fill="#000" stroke="none" />
<path d="M145.3 146.4 L195 150.6 Q204.6 152.5 205 168 Q205 186 188.9 193.2 Q173 200.6 153.7 202.8" stroke-width="4.4" fill="none" />
<rect x="153.8" y="158.8" width="32.2" height="4.8" fill="#000" stroke="none" />
<rect x="153.8" y="171.5" width="34.2" height="5" fill="#000" stroke="none" />
<rect x="186" y="151" width="9.7" height="29" fill="#000" stroke="none" />
<rect x="191.5" y="156" width="1.5" height="6" fill="#fff" stroke="none" />
<rect x="195.7" y="163.6" width="5.5" height="8.5" fill="#fff" stroke="none" />
<rect x="195.7" y="152" width="7.3" height="11.6" fill="#000" stroke="none" />
<rect x="195.7" y="172.1" width="7.5" height="5.9" fill="#000" stroke="none" />
<clipPath id="h8"><path d="M439.2 109.6 L444.8 109.6 L444.8 149 L439.2 149 Z"/></clipPath>
<path d="M406.55 150 L430.8 108 M410.15 150 L434.4 108 M413.75 150 L438 108 M417.35 150 L441.6 108 M420.95 150 L445.2 108 M424.55 150 L448.8 108 M428.15 150 L452.4 108 M431.75 150 L456 108 M435.35 150 L459.6 108 M438.95 150 L463.2 108 M442.55 150 L466.8 108 M446.15 150 L470.4 108 M449.75 150 L474 108 M453.35 150 L477.6 108 M456.95 150 L481.2 108 " stroke-width="1.1" fill="none" clip-path="url(#h8)"/>
<clipPath id="h9"><path d="M439 170.5 L444.2 170.5 L444.2 203.2 L439 203.2 Z"/></clipPath>
<path d="M410.02 205 L430.8 169 M413.62 205 L434.4 169 M417.22 205 L438 169 M420.82 205 L441.6 169 M424.42 205 L445.2 169 M428.02 205 L448.8 169 M431.62 205 L452.4 169 M435.22 205 L456 169 M438.82 205 L459.6 169 M442.42 205 L463.2 169 M446.02 205 L466.8 169 M449.62 205 L470.4 169 M453.22 205 L474 169 M456.82 205 L477.6 169 " stroke-width="1.1" fill="none" clip-path="url(#h9)"/>
<rect x="434.2" y="169" width="4.8" height="44.6" fill="#000" stroke="none" />
<rect x="435.1" y="107.2" width="2.5" height="38.8" fill="#000" stroke="none" />
<path d="M446 80.2 Q433.5 87 427.6 96 Q424 105 424.7 114 Q425.6 131 429 141 Q433 150.7 446 153.6" stroke-width="4.2" fill="none" />
<path d="M446 166.5 Q425.6 171.3 404.7 182.6 Q392 193 380.6 214" stroke-width="4.4" fill="none" />
<rect x="443" y="96.7" width="7" height="24.3" fill="#fff" stroke="none" />
<clipPath id="h10"><path d="M430 94 Q436 86 444.6 83 L444.6 96 L454.5 107.2 L454.5 109.6 L437.6 109.6 L437.6 106 L430 106 Z"/></clipPath>
<path d="M392.02 80 L420 110 M396.02 80 L424 110 M400.02 80 L428 110 M404.02 80 L432 110 M408.02 80 L436 110 M412.02 80 L440 110 M416.02 80 L444 110 M420.02 80 L448 110 M424.02 80 L452 110 M428.02 80 L456 110 M432.02 80 L460 110 M436.02 80 L464 110 M440.02 80 L468 110 M444.02 80 L472 110 M448.02 80 L476 110 M452.02 80 L480 110 M456.02 80 L484 110 M460.02 80 L488 110 M464.02 80 L492 110 M468.02 80 L496 110 " stroke-width="1.3" fill="none" clip-path="url(#h10)"/>
<clipPath id="h11"><path d="M444.8 109.6 L454.5 109.6 L454.5 113 L449.5 121.7 L444.8 121.7 Z"/></clipPath>
<path d="M424.05 123 L435.8 109 M427.65 123 L439.4 109 M431.25 123 L443 109 M434.85 123 L446.6 109 M438.45 123 L450.2 109 M442.05 123 L453.8 109 M445.65 123 L457.4 109 M449.25 123 L461 109 M452.85 123 L464.6 109 M456.45 123 L468.2 109 M460.05 123 L471.8 109 M463.65 123 L475.4 109 M467.25 123 L479 109 " stroke-width="1.1" fill="none" clip-path="url(#h11)"/>
<rect x="444" y="110.4" width="7.2" height="2.4" fill="#fff" stroke="none" />
<clipPath id="h12"><path d="M466.5 109.5 L473 109.5 L473 117 Q473 120 470 120.6 L466.5 120.6 Z"/></clipPath>
<path d="M447.73 121 L457.8 109 M451.33 121 L461.4 109 M454.93 121 L465 109 M458.53 121 L468.6 109 M462.13 121 L472.2 109 M465.73 121 L475.8 109 M469.33 121 L479.4 109 M472.93 121 L483 109 M476.53 121 L486.6 109 M480.13 121 L490.2 109 M483.73 121 L493.8 109 M487.33 121 L497.4 109 " stroke-width="1.1" fill="none" clip-path="url(#h12)"/>
<clipPath id="h13"><path d="M466.5 99.5 L471 99.5 Q473 100.5 473 103 L473 109.5 L466.5 109.5 Z"/></clipPath>
<path d="M447.54 99 L457.8 110 M451.14 99 L461.4 110 M454.74 99 L465 110 M458.34 99 L468.6 110 M461.94 99 L472.2 110 M465.54 99 L475.8 110 M469.14 99 L479.4 110 M472.74 99 L483 110 M476.34 99 L486.6 110 M479.94 99 L490.2 110 M483.54 99 L493.8 110 M487.14 99 L497.4 110 " stroke-width="1.1" fill="none" clip-path="url(#h13)"/>
<path d="M466.2 99.5 L471 99.5 Q473 100.5 473 103 L473 117 Q473 120 470 120.6 L466.2 120.6" stroke-width="1" fill="none" />
<rect x="446.6" y="96.7" width="26.4" height="3.3" fill="#000" stroke="none" />
<rect x="453.6" y="88.7" width="15.4" height="8" fill="none" stroke-width="1" />
<line x1="457.6" y1="88.7" x2="457.6" y2="96.7" stroke-width="1" />
<line x1="463.4" y1="88.7" x2="463.4" y2="96.7" stroke-width="1" />
<rect x="457.2" y="85.5" width="6.9" height="3.2" fill="none" stroke-width="1" />
<line x1="460.6" y1="74" x2="460.6" y2="100" stroke-width="1" />
<rect x="456.5" y="100" width="9.7" height="20.9" fill="#fff" stroke="none" />
<line x1="456.5" y1="100" x2="456.5" y2="121" stroke-width="1" />
<line x1="466.2" y1="100" x2="466.2" y2="121" stroke-width="1" />
<line x1="460" y1="100" x2="460" y2="121" stroke-width="1" />
<line x1="463.3" y1="100" x2="463.3" y2="121" stroke-width="1" />
<rect x="457.6" y="100" width="5.8" height="5.6" fill="#000" stroke="none" />
<rect x="459.4" y="101.6" width="2.2" height="3" fill="#fff" stroke="none" />
<rect x="456.5" y="96.7" width="2" height="0.9" fill="#fff" stroke="none" />
<rect x="460.5" y="96.7" width="3" height="0.9" fill="#fff" stroke="none" />
<path d="M448.8 121 L470.5 122.6 L470.5 125.6 L448.8 125 Z" stroke-width="1" fill="#000" />
<path d="M456.4 124 Q456.2 134 459 135.6 Q461 137 463.5 136.4" stroke-width="2.8" fill="none" />
<line x1="463.3" y1="135.6" x2="473" y2="135.6" stroke-width="1" />
<line x1="473" y1="101" x2="473" y2="197" stroke-width="1" />
<path d="M381 123.4 L397 123.4 L397 138 Q397 141.5 393 141.5 L387 141.5 L387 150 Q387 153.5 383 153.5 L374 153.5 Q371 153.5 371 150 L371 141.5 L378 130 Z" stroke-width="1" fill="#000" />
<path d="M388.5 131 l4.5 -1.5 l0 4 l-4.5 2.5 Z" stroke-width="0.6" fill="#fff" />
<rect x="449" y="199.1" width="8" height="20.9" fill="#000" stroke="none" />
<rect x="449" y="220" width="4" height="3.4" fill="#000" stroke="none" />
<rect x="440" y="208.6" width="9" height="1.4" fill="#000" stroke="none" />
<rect x="440" y="211.2" width="9" height="1.2" fill="#000" stroke="none" />
<line x1="694.5" y1="5" x2="694.5" y2="227" stroke-width="1" stroke-dasharray="20 2 1.5 2"/>
<line x1="574" y1="109.3" x2="591" y2="109.3" stroke-width="1" />
<line x1="804" y1="109.3" x2="832.6" y2="109.3" stroke-width="1" />
<line x1="648.7" y1="73" x2="648.7" y2="163" stroke-width="1" />
<line x1="740.5" y1="73" x2="740.5" y2="96" stroke-width="1" />
<line x1="710.4" y1="81.7" x2="710.4" y2="118" stroke-width="1" />
<g>
<rect x="659" y="38" width="5.2" height="175.4" fill="#000" stroke="none" />
<path d="M620.1 63.4 L643 60.3 L659.5 60.3 L659.5 72.8 L620.1 72.8 Z" stroke-width="1" fill="#000" />
<path d="M625 67.3 L659 64.2" stroke-width="1" fill="none" stroke="#fff"/>
<rect x="620.1" y="63.4" width="4.9" height="101.3" fill="#000" stroke="none" />
<rect x="631" y="72.6" width="5" height="73.4" fill="#000" stroke="none" />
<rect x="636" y="96.3" width="59" height="4.9" fill="#000" stroke="none" />
<rect x="625" y="106.7" width="70" height="4.8" fill="#000" stroke="none" />
<rect x="620.1" y="117.3" width="74.9" height="5.5" fill="#000" stroke="none" />
<path d="M625 145.3 L659.5 145.3 L659.5 159.6 L632 157.6 L632 164.7 L625 164.7 Z" stroke-width="1" fill="#000" />
<path d="M632 151.6 L659 154" stroke-width="1" fill="none" stroke="#fff"/>
<rect x="625" y="151.2" width="4" height="1" fill="#fff" stroke="none" />
<rect x="625.6" y="157" width="1.6" height="4.4" fill="#fff" stroke="none" />
<rect x="627.3" y="156" width="5" height="61.9" fill="#000" stroke="none" />
<rect x="627.3" y="212.8" width="44.7" height="5.1" fill="#000" stroke="none" />
<path d="M668 215.3 Q674.6 215.4 675.6 210" stroke-width="4.4" fill="none" stroke-linecap="round"/>
<path d="M627.4 216 L627.4 231.4 L664.7 231.4 L666.8 229.3 L695 229.3" stroke-width="4.6" fill="none" stroke-linejoin="round"/>
</g>
<g transform="translate(1389.0 0) scale(-1 1)">
<rect x="659" y="38" width="5.2" height="175.4" fill="#000" stroke="none" />
<path d="M620.1 63.4 L643 60.3 L659.5 60.3 L659.5 72.8 L620.1 72.8 Z" stroke-width="1" fill="#000" />
<path d="M625 67.3 L659 64.2" stroke-width="1" fill="none" stroke="#fff"/>
<rect x="620.1" y="63.4" width="4.9" height="101.3" fill="#000" stroke="none" />
<rect x="631" y="72.6" width="5" height="73.4" fill="#000" stroke="none" />
<rect x="636" y="96.3" width="59" height="4.9" fill="#000" stroke="none" />
<rect x="625" y="106.7" width="70" height="4.8" fill="#000" stroke="none" />
<rect x="620.1" y="117.3" width="74.9" height="5.5" fill="#000" stroke="none" />
<path d="M625 145.3 L659.5 145.3 L659.5 159.6 L632 157.6 L632 164.7 L625 164.7 Z" stroke-width="1" fill="#000" />
<path d="M632 151.6 L659 154" stroke-width="1" fill="none" stroke="#fff"/>
<rect x="625" y="151.2" width="4" height="1" fill="#fff" stroke="none" />
<rect x="625.6" y="157" width="1.6" height="4.4" fill="#fff" stroke="none" />
<rect x="627.3" y="156" width="5" height="61.9" fill="#000" stroke="none" />
<rect x="627.3" y="212.8" width="44.7" height="5.1" fill="#000" stroke="none" />
<path d="M668 215.3 Q674.6 215.4 675.6 210" stroke-width="4.4" fill="none" stroke-linecap="round"/>
<path d="M627.4 216 L627.4 231.4 L664.7 231.4 L666.8 229.3 L695 229.3" stroke-width="4.6" fill="none" stroke-linejoin="round"/>
</g>
<path d="M661.6 40 L661.6 18.5 L669 10.5 L718 10.5 Q727.6 10.5 727.6 21 L727.6 40" stroke-width="4.8" fill="none" />
<path d="M663 37.6 L666.5 33 L669.5 30.2 L718 30.2 L722 33.5 L726 37.6 Z" stroke-width="1" fill="#000" />
<path d="M643 60.5 L643 39.5 Q643 37 646 37 L649.5 37 L652.8 41.5 L656 37.2 L664 37.2 L664 60.5 Z" stroke-width="1" fill="#000" />
<rect x="651.8" y="46.8" width="4.5" height="3.5" fill="#fff" stroke="none" />
<rect x="651.8" y="51.5" width="4.5" height="3.2" fill="#fff" stroke="none" />
<line x1="642.2" y1="50.2" x2="667.3" y2="50.2" stroke-width="1" />
<path d="M730 60.5 L730 37.2 L731.5 37.2 L734.8 41.5 L738 37 L742 37 Q744.7 37 744.7 39.5 L744.7 60.5 Z" stroke-width="1" fill="#000" />
<rect x="731.8" y="46.8" width="5.3" height="3.5" fill="#fff" stroke="none" />
<rect x="731.8" y="51.5" width="5.3" height="3.2" fill="#fff" stroke="none" />
<line x1="728" y1="50.2" x2="747" y2="50.2" stroke-width="1" />
<ellipse cx="719.3" cy="54.5" rx="8" ry="16.5" fill="#000" stroke="#000" stroke-width="4.6"/>
<rect x="713.6" y="50" width="1.4" height="10.6" fill="#fff" stroke="none" />
<rect x="718" y="49" width="6" height="1.2" fill="#fff" stroke="none" />
<rect x="718" y="52.4" width="6" height="1" fill="#fff" stroke="none" />
<g stroke="#fff">
<clipPath id="h14"><path d="M718 38.3 L724.8 38.3 L724.8 44.3 L718 44.3 Z"/></clipPath>
<path d="M706.9 38 L711.8 45 M709.5 38 L714.4 45 M712.1 38 L717 45 M714.7 38 L719.6 45 M717.3 38 L722.2 45 M719.9 38 L724.8 45 M722.5 38 L727.4 45 M725.1 38 L730 45 M727.7 38 L732.6 45 M730.3 38 L735.2 45 M732.9 38 L737.8 45 M735.5 38 L740.4 45 " stroke-width="1.2" fill="none" clip-path="url(#h14)"/>
<clipPath id="h15"><path d="M720 58.8 L724.8 58.8 L724.8 69.7 L720 69.7 Z"/></clipPath>
<path d="M705 58 L713.4 70 M707.8 58 L716.2 70 M710.6 58 L719 70 M713.4 58 L721.8 70 M716.2 58 L724.6 70 M719 58 L727.4 70 M721.8 58 L730.2 70 M724.6 58 L733 70 M727.4 58 L735.8 70 M730.2 58 L738.6 70 M733 58 L741.4 70 M735.8 58 L744.2 70 " stroke-width="1.3" fill="none" clip-path="url(#h15)"/>
</g>
<path d="M711 66 Q713 74 725 76.5" stroke-width="3.6" fill="none" />
<rect x="701.9" y="84.8" width="17.3" height="8" rx="2.4" fill="#000" stroke="none" />
<rect x="704.5" y="92" width="12" height="4.5" fill="#000" stroke="none" />
<rect x="654.2" y="82.4" width="16.4" height="47.4" rx="1.6" fill="#000" stroke="none" />
<rect x="663.9" y="87.8" width="2.4" height="8.5" fill="#fff" stroke="none" />
<circle cx="635" cy="127.2" r="10.8" stroke="none" fill="#000"/>
<rect x="625" y="137.4" width="6" height="9.1" fill="#fff" stroke="none" />
<path d="M630 120 Q634 115.5 640 118.6" stroke-width="2.2" fill="none" stroke="#fff"/>
<rect x="620.1" y="117.3" width="4.9" height="22.7" fill="#000" stroke="none" />
<rect x="626.4" y="128.6" width="1" height="1" fill="#fff" stroke="none" />
<rect x="628" y="129.8" width="1" height="1" fill="#fff" stroke="none" />
<rect x="629.6" y="128.6" width="1" height="1" fill="#fff" stroke="none" />
<rect x="626.4" y="131" width="1" height="1" fill="#fff" stroke="none" />
<rect x="628" y="132.2" width="1" height="1" fill="#fff" stroke="none" />
<rect x="629.6" y="131" width="1" height="1" fill="#fff" stroke="none" />
<rect x="591" y="93.3" width="29.5" height="28.5" rx="2" fill="#000" stroke="none" />
<rect x="597.6" y="98.8" width="4.9" height="17.4" fill="#fff" stroke="none" />
<rect x="604.3" y="98.8" width="7.3" height="17.4" fill="#fff" stroke="none" />
<rect x="615.9" y="98.8" width="4.2" height="17.7" fill="#fff" stroke="none" />
<line x1="603.1" y1="90.3" x2="603.1" y2="127.6" stroke-width="1" />
<line x1="604.6" y1="98" x2="604.6" y2="127.6" stroke-width="1" />
<path d="M769 92.4 L777.5 92.4 L777.5 90.2 L802 90.2 Q804.3 90.2 804.3 92.5 L804.3 121 L801 124 L778 124 L776 122.8 L769 122.8 Z" stroke-width="1" fill="#000" />
<rect x="773.9" y="97" width="3.6" height="20.5" fill="#fff" stroke="none" />
<rect x="779.4" y="100" width="7.3" height="19.1" fill="#fff" stroke="none" />
<rect x="790.9" y="100" width="5.5" height="19.1" fill="#fff" stroke="none" />
<line x1="787.6" y1="87.2" x2="787.6" y2="130.7" stroke-width="1" />
<line x1="790.2" y1="87.2" x2="790.2" y2="130.7" stroke-width="1" />
<rect x="738.6" y="100" width="4.3" height="61.5" fill="#000" stroke="none" />
<path d="M738.6 161 L740.7 164.5 L742.9 161 Z" stroke-width="1" fill="#000" />
<path d="M681.7 122 L681.7 139 Q681.7 141.6 684.5 141.6 L704.5 141.6 Q707.3 141.6 707.3 139 L707.3 122" stroke-width="5" fill="none" />
<line x1="582.2" y1="109.3" x2="582.2" y2="231.4" stroke-width="1" />
<line x1="581.6" y1="231.4" x2="627" y2="231.4" stroke-width="1" />
<rect x="581.2" y="111" width="2" height="2" fill="#000" stroke="none"/>
<rect x="581.2" y="227.6" width="2" height="2" fill="#000" stroke="none"/>
<g filter="url(#thr2)"><text x="583.4" y="169.5" font-size="6.2" text-anchor="middle" class="n" transform="rotate(-90 583.4 169.5)">150</text></g>
<line x1="645.2" y1="208.8" x2="645.2" y2="239" stroke-width="1" />
<line x1="743.7" y1="208.8" x2="743.7" y2="239" stroke-width="1" />
<line x1="645.2" y1="238.5" x2="743.7" y2="238.5" stroke-width="1" />
<line x1="627.3" y1="234" x2="627.3" y2="249" stroke-width="1" />
<line x1="761.7" y1="234" x2="761.7" y2="249" stroke-width="1" />
<line x1="627.3" y1="247.6" x2="761.7" y2="247.6" stroke-width="1" />
<rect x="630.4" y="246.5" width="2.2" height="2.2" fill="#000" stroke="none"/>
<rect x="756.4" y="246.5" width="2.2" height="2.2" fill="#000" stroke="none"/>
<rect x="647.3" y="237.8" width="1.4" height="1.4" fill="#000" stroke="none"/>
<rect x="740.3" y="237.8" width="1.4" height="1.4" fill="#000" stroke="none"/>
<text x="694.6" y="237.8" font-size="6.2" text-anchor="middle" class="n" filter="url(#thr2)">120</text>
<text x="694.6" y="246.9" font-size="6.2" text-anchor="middle" class="n" filter="url(#thr2)">160</text>
<text x="588.5" y="19" font-size="6" text-anchor="start" class="n" font-weight="700" filter="url(#thr2)">26</text>
<line x1="582.2" y1="22.5" x2="612.9" y2="22.5" stroke-width="1" />
<line x1="612.9" y1="22.5" x2="640" y2="61" stroke-width="1" />
<line x1="647" y1="73" x2="655" y2="84" stroke-width="1" />
<line x1="80" y1="311.4" x2="80" y2="492.7" stroke-width="1" />
<line x1="80" y1="311.5" x2="229" y2="311.5" stroke-width="1" />
<line x1="80" y1="492.7" x2="317.3" y2="492.7" stroke-width="1" />
<rect x="79" y="313" width="2" height="2" fill="#000" stroke="none"/>
<rect x="79" y="390" width="2" height="2" fill="#000" stroke="none"/>
<rect x="79" y="396.6" width="2" height="2" fill="#000" stroke="none"/>
<rect x="79" y="488.6" width="2" height="2" fill="#000" stroke="none"/>
<line x1="80" y1="395.1" x2="492" y2="395.1" stroke-width="1" />
<g filter="url(#thr2)"><text x="78.8" y="352.5" font-size="6.2" text-anchor="middle" class="n" transform="rotate(-90 78.8 352.5)">135</text></g>
<g filter="url(#thr2)"><text x="78.8" y="443.5" font-size="6.2" text-anchor="middle" class="n" transform="rotate(-90 78.8 443.5)">160</text></g>
<text x="219" y="292.6" font-size="5.6" text-anchor="start" class="n" font-weight="700" filter="url(#thr2)">8</text>
<line x1="214" y1="295" x2="236.5" y2="295" stroke-width="1" />
<line x1="214" y1="295" x2="229" y2="308" stroke-width="1" />
<text x="231" y="302.8" font-size="6" text-anchor="start" class="n" textLength="16.4" lengthAdjust="spacingAndGlyphs" filter="url(#thr2)">55n6</text>
<line x1="229.7" y1="303.2" x2="249.2" y2="303.2" stroke-width="1" />
<line x1="229.7" y1="303.2" x2="229.7" y2="309.5" stroke-width="1" />
<line x1="249.2" y1="303.2" x2="249.2" y2="309.5" stroke-width="1" />
<line x1="239.5" y1="303.2" x2="239.5" y2="310" stroke-width="1" />
<text x="260.5" y="292.4" font-size="5.6" text-anchor="start" class="n" font-weight="700" filter="url(#thr2)">9</text>
<line x1="258.3" y1="294.6" x2="277.1" y2="294.6" stroke-width="1" />
<line x1="258.3" y1="294.6" x2="252.8" y2="310" stroke-width="1" />
<line x1="252.2" y1="311.3" x2="265" y2="311.3" stroke-width="1" />
<line x1="252.2" y1="322.2" x2="265" y2="322.2" stroke-width="1" />
<line x1="263.2" y1="311.3" x2="263.2" y2="322.2" stroke-width="1" />
<g filter="url(#thr2)"><text x="261.6" y="317" font-size="4.6" text-anchor="middle" class="n" transform="rotate(-90 261.6 317)">45</text></g>
<text x="361" y="291.6" font-size="5.6" text-anchor="start" class="n" font-weight="700" filter="url(#thr2)">10</text>
<line x1="357.4" y1="296.1" x2="379.8" y2="296.1" stroke-width="1" />
<line x1="357.4" y1="296.1" x2="351.9" y2="326" stroke-width="1" />
<text x="409.6" y="292.8" font-size="5.6" text-anchor="start" class="n" font-weight="700" filter="url(#thr2)">11</text>
<line x1="401.7" y1="296.1" x2="424.8" y2="296.1" stroke-width="1" />
<line x1="401.7" y1="296.1" x2="387.1" y2="326" stroke-width="1" />
<text x="446.6" y="292.4" font-size="5.6" text-anchor="start" class="n" font-weight="700" filter="url(#thr2)">12</text>
<line x1="438.8" y1="297.5" x2="467.6" y2="297.5" stroke-width="1" />
<line x1="438.8" y1="297.5" x2="417.4" y2="392" stroke-width="1" />
<line x1="338.4" y1="305.2" x2="338.4" y2="324" stroke-width="1" />
<text x="193.9" y="485" font-size="5.8" text-anchor="start" class="n" font-weight="700" filter="url(#thr2)">7</text>
<line x1="183" y1="487.2" x2="209.7" y2="487.2" stroke-width="1" />
<line x1="209.7" y1="487.2" x2="227.3" y2="466.2" stroke-width="1" />
<text x="225.8" y="486.8" font-size="5.8" text-anchor="start" class="n" font-weight="700" filter="url(#thr2)">6</text>
<line x1="218.8" y1="488.7" x2="245" y2="488.7" stroke-width="1" />
<line x1="245" y1="488.7" x2="257" y2="466.2" stroke-width="1" />
<line x1="239.5" y1="465.6" x2="239.5" y2="480.8" stroke-width="1" />
<text x="283.8" y="486.8" font-size="5.8" text-anchor="start" class="n" font-weight="700" filter="url(#thr2)">5</text>
<line x1="271" y1="488.7" x2="293.6" y2="488.7" stroke-width="1" />
<line x1="293.6" y1="488.7" x2="327.6" y2="462" stroke-width="1" />
<text x="306" y="488" font-size="5.8" text-anchor="start" class="n" font-weight="700" filter="url(#thr2)">4</text>
<line x1="300.2" y1="489.5" x2="317.3" y2="489.5" stroke-width="1" />
<text x="393.2" y="485" font-size="5.8" text-anchor="start" class="n" font-weight="700" filter="url(#thr2)">3</text>
<line x1="385.3" y1="487.5" x2="403.6" y2="487.5" stroke-width="1" />
<line x1="385.3" y1="487.5" x2="373.2" y2="465.6" stroke-width="1" />
<text x="415.7" y="485.6" font-size="5.8" text-anchor="start" class="n" font-weight="700" filter="url(#thr2)">2</text>
<line x1="409" y1="488.3" x2="426" y2="488.3" stroke-width="1" />
<line x1="409" y1="488.3" x2="375.6" y2="419.5" stroke-width="1" />
<text x="441.9" y="485" font-size="5.8" text-anchor="start" class="n" font-weight="700" filter="url(#thr2)">1</text>
<line x1="432.1" y1="488.3" x2="450" y2="488.3" stroke-width="1" />
<line x1="432.1" y1="488.3" x2="416.3" y2="444.3" stroke-width="1" />
<line x1="359.2" y1="472.3" x2="372.6" y2="472.3" stroke-width="1" />
<line x1="359.2" y1="493" x2="372.6" y2="493" stroke-width="1" />
<line x1="372.6" y1="472.3" x2="372.6" y2="493" stroke-width="1" />
<g filter="url(#thr2)"><text x="369.4" y="483" font-size="4.6" text-anchor="middle" class="n" transform="rotate(-90 369.4 483)">45</text></g>
<path d="M115.6 437 L115.6 353 Q116 346 119.5 342 Q124 337.4 131 335.2 L141 333" stroke-width="3" fill="none" />
<path d="M115.5 435 Q116 447 124 452.6 Q131 457.4 146 458" stroke-width="4.2" fill="none" />
<path d="M139 335.9 L139 333 L146 326.3 L445 326.3 L449.5 330.4 L452 335.9 L396.5 335.9 Q394.4 333 393.4 331.4 L178 331.4 L176.6 335.9 Z" stroke-width="1" fill="#000" />
<path d="M448 333.6 Q460 334.4 467.4 340.4 Q474.2 346.8 474.6 359" stroke-width="5" fill="none" />
<path d="M474.7 357 L474.7 436 Q474.4 441 471 444.5 L464.5 452 Q459 457.6 449 458.2" stroke-width="3.2" fill="none" />
<path d="M131 455.2 L147 455.2 L150 456 L317.3 456 L317.3 465.6 L150 465.6 L141.6 461.5 Z" stroke-width="1" fill="#000" />
<path d="M389.5 457 L449 457 L442.5 464.4 L383 464.4 Z" stroke-width="1" fill="#000" />
<path d="M390.6 459.4 L444.4 459.4 L442 462 L388.4 462 Z" stroke-width="1" fill="#fff" stroke="none"/>
<rect x="317" y="456" width="73" height="9.6" fill="#000" stroke="none" />
<line x1="173.2" y1="349.3" x2="202.4" y2="349.3" stroke-width="1" />
<line x1="187.8" y1="334.7" x2="187.8" y2="363.9" stroke-width="1" />
<circle cx="187.8" cy="349.3" r="10.7" stroke="none" fill="#000"/>
<rect x="185.5" y="347.2" width="1.1" height="1.1" fill="#fff" stroke="none" />
<rect x="188.5" y="346.8" width="1.1" height="1.1" fill="#fff" stroke="none" />
<rect x="186.9" y="349" width="1.1" height="1.1" fill="#fff" stroke="none" />
<rect x="189.3" y="349.8" width="1.1" height="1.1" fill="#fff" stroke="none" />
<rect x="185.7" y="350.8" width="1.1" height="1.1" fill="#fff" stroke="none" />
<rect x="188.1" y="351" width="1.1" height="1.1" fill="#fff" stroke="none" />
<line x1="131.3" y1="362.6" x2="145.9" y2="362.6" stroke-width="1" />
<line x1="138.6" y1="355.3" x2="138.6" y2="369.9" stroke-width="1" />
<circle cx="138.6" cy="362.6" r="5.5" stroke="none" fill="#000"/>
<line x1="156.6" y1="369.5" x2="156.6" y2="369.5" stroke-width="1" />
<line x1="156.6" y1="369.5" x2="156.6" y2="369.5" stroke-width="1" />
<circle cx="156.6" cy="369.5" r="5" stroke="none" fill="#000"/>
<rect x="152" y="366.3" width="10.3" height="13.7" rx="5" fill="#000" stroke="none" />
<rect x="152" y="372.4" width="14.5" height="35.1" fill="#000" stroke="none" />
<rect x="162.3" y="372.4" width="46.2" height="4.8" fill="#000" stroke="none" />
<path d="M113.6 400 L151.3 405.8 L178.1 412.4 L210 415.4" stroke-width="4.2" fill="none" />
<rect x="158.6" y="418.2" width="27.4" height="4.9" fill="#000" stroke="none" />
<path d="M184.5 419 L209 442" stroke-width="5" fill="none" />
<path d="M157.4 407 L157.8 438 Q158.6 447 165 451.6 Q171 455 182 456 L214 456.6" stroke-width="5.8" fill="none" />
<path d="M206 447 Q211 450 212.5 457" stroke-width="2.4" fill="none" />
<path d="M146.5 421.7 L140.1 432.79 L127.3 432.79 L120.9 421.7 L127.3 410.61 L140.1 410.61 Z" stroke-width="4.2" fill="none" />
<line x1="116" y1="421.7" x2="151" y2="421.7" stroke-width="1" />
<line x1="133.7" y1="405.5" x2="133.7" y2="437.5" stroke-width="1" />
<path d="M201.4 441.3 L194.3 453.6 L180.1 453.6 L173 441.3 L180.1 429 L194.3 429 Z" stroke-width="1" fill="#000" />
<rect x="185" y="439" width="1.2" height="4.4" fill="#fff" stroke="none" />
<rect x="187.6" y="439" width="1.2" height="4.4" fill="#fff" stroke="none" />
<rect x="184.4" y="440.6" width="5.2" height="1" fill="#fff" stroke="none" />
<rect x="202.4" y="332.6" width="21.9" height="13.4" fill="#000" stroke="none" />
<rect x="209.7" y="330.9" width="10.9" height="13.2" fill="#fff" stroke="none" />
<clipPath id="h16"><path d="M209.7 330.9 L220.6 330.9 L220.6 344.1 L209.7 344.1 Z"/></clipPath>
<path d="M189.41 345 L202 330 M192.41 345 L205 330 M195.41 345 L208 330 M198.41 345 L211 330 M201.41 345 L214 330 M204.41 345 L217 330 M207.41 345 L220 330 M210.41 345 L223 330 M213.41 345 L226 330 M216.41 345 L229 330 M219.41 345 L232 330 M222.41 345 L235 330 M225.41 345 L238 330 M228.41 345 L241 330 M231.41 345 L244 330 " stroke-width="1" fill="none" clip-path="url(#h16)"/>
<rect x="207.3" y="345" width="20" height="35.3" fill="#000" stroke="none" />
<rect x="216.4" y="348" width="7.9" height="3.1" fill="#fff" stroke="none" />
<path d="M211.7 359.4 L214.2 361.8 L211.7 364.2 Z M223 359.4 L220.5 361.8 L223 364.2 Z" stroke-width="1" fill="#fff" stroke="none"/>
<rect x="216.4" y="356" width="2.6" height="1.2" fill="#fff" stroke="none" />
<rect x="216.4" y="365.8" width="2.6" height="1.2" fill="#fff" stroke="none" />
<rect x="217.2" y="357.2" width="1" height="2.4" fill="#fff" stroke="none" />
<rect x="218.8" y="380" width="6.1" height="30" fill="#000" stroke="none" />
<rect x="208.5" y="409.1" width="18.8" height="32.2" fill="#000" stroke="none" />
<path d="M211.7 426.2 L214.2 428.6 L211.7 431 Z M223 426.2 L220.5 428.6 L223 431 Z" stroke-width="1" fill="#fff" stroke="none"/>
<rect x="216.4" y="422.8" width="2.6" height="1.2" fill="#fff" stroke="none" />
<rect x="216.4" y="432.6" width="2.6" height="1.2" fill="#fff" stroke="none" />
<line x1="215.4" y1="425.6" x2="220" y2="431.6" stroke-width="1" stroke="#fff"/>
<line x1="215.4" y1="431.6" x2="220" y2="425.6" stroke-width="1" stroke="#fff"/>
<rect x="213" y="441" width="11.3" height="15" fill="#000" stroke="none" />
<rect x="216.4" y="442" width="7.9" height="4.8" fill="#fff" stroke="none" />
<path d="M228.5 309.8 L250.4 309.8 L255.3 319 L255.3 326 L224.3 326 L224.3 319 Z" stroke-width="1" fill="#000" />
<rect x="230.3" y="313.7" width="4.9" height="2.4" fill="#fff" stroke="none" />
<rect x="230.3" y="318" width="4.9" height="2.4" fill="#fff" stroke="none" />
<rect x="243.1" y="313.7" width="4.3" height="2.4" fill="#fff" stroke="none" />
<rect x="243.1" y="318" width="4.3" height="2.4" fill="#fff" stroke="none" />
<rect x="224.3" y="325.9" width="158.7" height="139.7" fill="#000" stroke="none" />
<path d="M383.6 330.2 L394 330.2 L395 336 L383.6 340 L379 358.5 L383.6 358.5 Z" stroke-width="1" fill="#fff" stroke="none"/>
<rect x="377.6" y="340" width="6.4" height="31.7" fill="#fff" stroke="none" />
<path d="M377.6 340 L383.6 340 L378.6 350 Z" stroke-width="1" fill="#000" />
<rect x="229.1" y="325.3" width="20.7" height="26.4" fill="#fff" stroke="none" />
<rect x="227.9" y="357.2" width="23.1" height="18.2" fill="#fff" stroke="none" />
<rect x="226" y="380.9" width="26.2" height="1.8" fill="#fff" stroke="none" />
<rect x="224.9" y="390" width="27.3" height="11" fill="#fff" stroke="none" />
<rect x="226" y="407.5" width="26.8" height="1.6" fill="#fff" stroke="none" />
<rect x="227.9" y="414" width="23.1" height="18.8" fill="#fff" stroke="none" />
<rect x="220" y="442" width="42" height="4.8" fill="#fff" stroke="none" />
<line x1="239.9" y1="309" x2="239.9" y2="465.6" stroke-width="1.6" />
<line x1="227.9" y1="366.6" x2="251" y2="366.6" stroke-width="1.5" />
<line x1="224.9" y1="395.5" x2="252.2" y2="395.5" stroke-width="1.6" />
<line x1="227.9" y1="429.4" x2="251" y2="429.4" stroke-width="1.5" />
<line x1="243" y1="446.8" x2="247" y2="442" stroke-width="1" />
<rect x="218.8" y="451.8" width="49.6" height="8.8" fill="#fff" stroke="none" />
<clipPath id="h17"><path d="M218.8 451.8 L268.4 451.8 L266 460.6 L218.8 460.6 Z"/></clipPath>
<path d="M200.81 461 L209.2 451 M204.21 461 L212.6 451 M207.61 461 L216 451 M211.01 461 L219.4 451 M214.41 461 L222.8 451 M217.81 461 L226.2 451 M221.21 461 L229.6 451 M224.61 461 L233 451 M228.01 461 L236.4 451 M231.41 461 L239.8 451 M234.81 461 L243.2 451 M238.21 461 L246.6 451 M241.61 461 L250 451 M245.01 461 L253.4 451 M248.41 461 L256.8 451 M251.81 461 L260.2 451 M255.21 461 L263.6 451 M258.61 461 L267 451 M262.01 461 L270.4 451 M265.41 461 L273.8 451 M268.81 461 L277.2 451 M272.21 461 L280.6 451 M275.61 461 L284 451 M279.01 461 L287.4 451 M282.41 461 L290.8 451 " stroke-width="1.2" fill="none" clip-path="url(#h17)"/>
<path d="M268.4 451.8 L268.4 460.6 L265.5 460.6 Z" stroke-width="1" fill="#000" />
<text x="239.5" y="365.4" font-size="5.4" text-anchor="middle" class="n" filter="url(#thr2)">20H7</text>
<text x="239.5" y="428.4" font-size="5.4" text-anchor="middle" class="n" filter="url(#thr2)">55k6</text>
<path d="M220.5 360.5 L223 362.2 L220.5 364 Z" stroke-width="1" fill="#fff" stroke="none"/>
<rect x="257.7" y="330.7" width="12.1" height="13.4" fill="#fff" stroke="none" />
<clipPath id="h18"><path d="M257.7 330.7 L266 330.7 L269.8 337 L266 344.1 L257.7 344.1 Z"/></clipPath>
<path d="M237.41 345 L250 330 M240.41 345 L253 330 M243.41 345 L256 330 M246.41 345 L259 330 M249.41 345 L262 330 M252.41 345 L265 330 M255.41 345 L268 330 M258.41 345 L271 330 M261.41 345 L274 330 M264.41 345 L277 330 M267.41 345 L280 330 M270.41 345 L283 330 M273.41 345 L286 330 M276.41 345 L289 330 M279.41 345 L292 330 M282.41 345 L295 330 " stroke-width="1.1" fill="none" clip-path="url(#h18)"/>
<path d="M266 330.7 L269.8 330.7 L269.8 337 Z M266 344.1 L269.8 344.1 L269.8 337 Z" stroke-width="1" fill="#000" />
<rect x="270.8" y="331.1" width="3.3" height="2.1" fill="#fff" stroke="none" />
<rect x="279.3" y="331.1" width="13.7" height="2.7" fill="#fff" stroke="none" />
<rect x="255.3" y="348" width="6.7" height="2.5" fill="#fff" stroke="none" />
<rect x="259" y="360.2" width="1.3" height="3.6" fill="#fff" stroke="none" />
<rect x="261.4" y="360.2" width="1.2" height="3.6" fill="#fff" stroke="none" />
<path d="M261.5 390.5 L259.5 392.5 L261.5 394.5 M261.5 396.5 L259.5 398.5 L261.5 400.5" stroke-width="1" fill="none" stroke="#fff"/>
<rect x="271" y="346.8" width="29.9" height="24.9" fill="#fff" stroke="none" />
<path d="M258.3 380.9 L270 380.9 L271 377.2 L304 377.2 L304.5 378.2 L310 378.2 L310 385.1 L258.3 385.1 Z" stroke-width="1" fill="#fff" stroke="none"/>
<path d="M258.3 406.1 L310 406.1 L310 411.6 L304 412.8 L271 412.8 L270 409.6 L258.3 409.6 Z" stroke-width="1" fill="#fff" stroke="none"/>
<line x1="280.3" y1="381" x2="280.3" y2="385.1" stroke-width="1" />
<line x1="280.3" y1="406.1" x2="280.3" y2="409" stroke-width="1" />
<rect x="271" y="418.2" width="29.9" height="28.6" fill="#fff" stroke="none" />
<path d="M277.1 453.5 L278.4 448.6 Q285.7 453.5 293 448.6 L294.2 453.5 Z" stroke-width="1" fill="#fff" stroke="none"/>
<rect x="278.4" y="458.4" width="14.6" height="1.6" fill="#fff" stroke="none" />
<rect x="298.4" y="457.4" width="2.6" height="2.6" fill="#fff" stroke="none" />
<line x1="285.7" y1="348.6" x2="285.7" y2="348.6" stroke-width="1" />
<line x1="285.7" y1="348.6" x2="285.7" y2="348.6" stroke-width="1" />
<circle cx="285.7" cy="348.6" r="10.6" stroke="none" fill="#000"/>
<rect x="283.4" y="346.5" width="1.1" height="1.1" fill="#fff" stroke="none" />
<rect x="286.4" y="346.1" width="1.1" height="1.1" fill="#fff" stroke="none" />
<rect x="284.8" y="348.3" width="1.1" height="1.1" fill="#fff" stroke="none" />
<rect x="287.2" y="349.1" width="1.1" height="1.1" fill="#fff" stroke="none" />
<rect x="283.6" y="350.1" width="1.1" height="1.1" fill="#fff" stroke="none" />
<rect x="286" y="350.3" width="1.1" height="1.1" fill="#fff" stroke="none" />
<line x1="285.7" y1="359" x2="285.7" y2="367" stroke-width="1" />
<line x1="271.3" y1="440.7" x2="300.1" y2="440.7" stroke-width="1" />
<line x1="285.7" y1="426.3" x2="285.7" y2="455.1" stroke-width="1" />
<circle cx="285.7" cy="440.7" r="10.4" stroke="none" fill="#000"/>
<rect x="283.4" y="438.6" width="1.1" height="1.1" fill="#fff" stroke="none" />
<rect x="286.4" y="438.2" width="1.1" height="1.1" fill="#fff" stroke="none" />
<rect x="284.8" y="440.4" width="1.1" height="1.1" fill="#fff" stroke="none" />
<rect x="287.2" y="441.2" width="1.1" height="1.1" fill="#fff" stroke="none" />
<rect x="283.6" y="442.2" width="1.1" height="1.1" fill="#fff" stroke="none" />
<rect x="286" y="442.4" width="1.1" height="1.1" fill="#fff" stroke="none" />
<line x1="285.7" y1="424.2" x2="285.7" y2="431" stroke-width="1" />
<path d="M302.7 337 L306.5 330.7 L372.5 330.7 L376.2 337 L372.5 340.5 L306.5 340.5 Z" stroke-width="1" fill="#fff" stroke="none"/>
<clipPath id="h19"><path d="M302.7 337 L306.5 330.7 L372.5 330.7 L376.2 337 L372.5 340.5 L306.5 340.5 Z"/></clipPath>
<path d="M285.7 330 L293.4 341 M289 330 L296.7 341 M292.3 330 L300 341 M295.6 330 L303.3 341 M298.9 330 L306.6 341 M302.2 330 L309.9 341 M305.5 330 L313.2 341 M308.8 330 L316.5 341 M312.1 330 L319.8 341 M315.4 330 L323.1 341 M318.7 330 L326.4 341 M322 330 L329.7 341 M325.3 330 L333 341 M328.6 330 L336.3 341 M331.9 330 L339.6 341 M335.2 330 L342.9 341 M338.5 330 L346.2 341 M341.8 330 L349.5 341 M345.1 330 L352.8 341 M348.4 330 L356.1 341 M351.7 330 L359.4 341 M355 330 L362.7 341 M358.3 330 L366 341 M361.6 330 L369.3 341 M364.9 330 L372.6 341 M368.2 330 L375.9 341 M371.5 330 L379.2 341 M374.8 330 L382.5 341 M378.1 330 L385.8 341 M381.4 330 L389.1 341 M384.7 330 L392.4 341 M388 330 L395.7 341 " stroke-width="1.3" fill="none" clip-path="url(#h19)"/>
<rect x="337.7" y="330.7" width="1.5" height="9.8" fill="#fff" stroke="none" />
<rect x="350.5" y="330.7" width="1.1" height="9.8" fill="#fff" stroke="none" />
<rect x="310" y="344.4" width="27.7" height="3.8" fill="#fff" stroke="none" />
<rect x="339.1" y="344.4" width="9.1" height="3.8" fill="#fff" stroke="none" />
<rect x="349.5" y="344.4" width="18.2" height="3.8" fill="#fff" stroke="none" />
<rect x="319.1" y="357.2" width="38.9" height="19.4" fill="#fff" stroke="none" />
<line x1="319.1" y1="364.5" x2="358" y2="364.5" stroke-width="1" />
<line x1="338.4" y1="340" x2="338.4" y2="470" stroke-width="1" />
<text x="338.4" y="363.6" font-size="5.4" text-anchor="middle" class="n" filter="url(#thr2)">50H7</text>
<rect x="319.1" y="382.1" width="43.7" height="3" fill="#fff" stroke="none" />
<rect x="317.3" y="390.6" width="15.7" height="2.8" fill="#fff" stroke="none" />
<rect x="317.3" y="396.7" width="15.7" height="3" fill="#fff" stroke="none" />
<rect x="344.6" y="390.2" width="15.2" height="3.2" fill="#fff" stroke="none" />
<rect x="344.6" y="396.7" width="15.2" height="3" fill="#fff" stroke="none" />
<rect x="299" y="390" width="12.8" height="11" fill="#fff" stroke="none" />
<clipPath id="h20"><path d="M299 390 L311.8 390 L311.8 401 L299 401 Z"/></clipPath>
<path d="M283.57 401 L292.8 390 M286.17 401 L295.4 390 M288.77 401 L298 390 M291.37 401 L300.6 390 M293.97 401 L303.2 390 M296.57 401 L305.8 390 M299.17 401 L308.4 390 M301.77 401 L311 390 M304.37 401 L313.6 390 M306.97 401 L316.2 390 M309.57 401 L318.8 390 M312.17 401 L321.4 390 M314.77 401 L324 390 M317.37 401 L326.6 390 M319.97 401 L329.2 390 M322.57 401 L331.8 390 " stroke-width="1.1" fill="none" clip-path="url(#h20)"/>
<rect x="299" y="394.8" width="12.8" height="1.2" fill="#000" stroke="none" />
<rect x="365.3" y="390" width="13.3" height="11" fill="#fff" stroke="none" />
<clipPath id="h21"><path d="M365.3 390 L378.6 390 L378.6 401 L365.3 401 Z"/></clipPath>
<path d="M349.57 401 L358.8 390 M352.17 401 L361.4 390 M354.77 401 L364 390 M357.37 401 L366.6 390 M359.97 401 L369.2 390 M362.57 401 L371.8 390 M365.17 401 L374.4 390 M367.77 401 L377 390 M370.37 401 L379.6 390 M372.97 401 L382.2 390 M375.57 401 L384.8 390 M378.17 401 L387.4 390 M380.77 401 L390 390 M383.37 401 L392.6 390 M385.97 401 L395.2 390 M388.57 401 L397.8 390 " stroke-width="1.1" fill="none" clip-path="url(#h21)"/>
<rect x="365.3" y="394.8" width="13.3" height="1.2" fill="#000" stroke="none" />
<rect x="319.1" y="404.9" width="38.9" height="20.6" fill="#fff" stroke="none" />
<rect x="319.1" y="428.6" width="38.9" height="4.2" fill="#fff" stroke="none" />
<text x="338.4" y="424.6" font-size="5.8" text-anchor="middle" class="n" filter="url(#thr2)">55k6</text>
<rect x="321" y="438.3" width="35.7" height="31.1" fill="#fff" stroke="none" />
<rect x="310" y="439.9" width="6" height="3.9" fill="#fff" stroke="none" />
<rect x="362.2" y="440.1" width="5.5" height="3.7" fill="#fff" stroke="none" />
<rect x="302" y="447.4" width="9.8" height="12.6" fill="#fff" stroke="none" />
<clipPath id="h22"><path d="M302 447.4 L308 447.4 L311.8 452 L311.8 460 L306 460 L302 452 Z"/></clipPath>
<path d="M285 447 L294.8 461 M287.6 447 L297.4 461 M290.2 447 L300 461 M292.8 447 L302.6 461 M295.4 447 L305.2 461 M298 447 L307.8 461 M300.6 447 L310.4 461 M303.2 447 L313 461 M305.8 447 L315.6 461 M308.4 447 L318.2 461 M311 447 L320.8 461 M313.6 447 L323.4 461 M316.2 447 L326 461 M318.8 447 L328.6 461 M321.4 447 L331.2 461 " stroke-width="1.2" fill="none" clip-path="url(#h22)"/>
<path d="M302 452 L306 460 L302 460 Z M308 447.4 L311.8 447.4 L311.8 452 Z" stroke-width="1" fill="#000" />
<rect x="365.3" y="447.4" width="10.9" height="12.6" fill="#fff" stroke="none" />
<clipPath id="h23"><path d="M369 447.4 L376.2 447.4 L372 460 L365.3 460 L365.3 452 Z"/></clipPath>
<path d="M351.12 461 L359.2 447 M353.52 461 L361.6 447 M355.92 461 L364 447 M358.32 461 L366.4 447 M360.72 461 L368.8 447 M363.12 461 L371.2 447 M365.52 461 L373.6 447 M367.92 461 L376 447 M370.32 461 L378.4 447 M372.72 461 L380.8 447 M375.12 461 L383.2 447 M377.52 461 L385.6 447 M379.92 461 L388 447 M382.32 461 L390.4 447 M384.72 461 L392.8 447 M387.12 461 L395.2 447 " stroke-width="1.2" fill="none" clip-path="url(#h23)"/>
<path d="M365.3 447.4 L369 447.4 L365.3 452 Z M376.2 447.4 L376.2 460 L372 460 Z" stroke-width="1" fill="#000" />
<rect x="376.4" y="418" width="7" height="25.8" fill="#fff" stroke="none" />
<rect x="376.2" y="443.8" width="6.7" height="13.3" fill="#000" stroke="none" />
<line x1="375.6" y1="419.5" x2="396.3" y2="465" stroke-width="1" />
<line x1="338.4" y1="438" x2="338.4" y2="497" stroke-width="1" />
<rect x="317.3" y="469.2" width="41.9" height="27.8" fill="#000" stroke="none" />
<rect x="323.3" y="474" width="9.7" height="8" fill="#fff" stroke="none" />
<rect x="344.6" y="474" width="9.7" height="8" fill="#fff" stroke="none" />
<rect x="323.3" y="485" width="9.7" height="5" fill="#fff" stroke="none" />
<rect x="344.6" y="485" width="9.7" height="5" fill="#fff" stroke="none" />
<rect x="323.3" y="493.4" width="9.7" height="3.6" fill="#fff" stroke="none" />
<rect x="344.6" y="493.4" width="9.7" height="3.6" fill="#fff" stroke="none" />
<rect x="317.3" y="483" width="41.7" height="1" fill="#000" stroke="none" />
<rect x="336.6" y="474" width="1" height="23" fill="#fff" stroke="none" />
<rect x="339.4" y="474" width="0.8" height="23" fill="#fff" stroke="none" />
<path d="M312.4 480.5 Q311.5 477.5 315 478.5 L317.3 479 L317.3 486 Q313 485.6 312.4 480.5 Z" stroke-width="1" fill="#000" />
<path d="M383 385.1 L423 385.1 L426.1 388 L426.1 403 L423 406 L383 406 Z" stroke-width="1" fill="#000" />
<rect x="416.6" y="391" width="1.8" height="9.5" fill="#fff" stroke="none" />
<rect x="400" y="363.8" width="57" height="8.4" rx="3.4" fill="#000" stroke="none" />
<rect x="383" y="371.7" width="48" height="5.5" fill="#000" stroke="none" />
<rect x="400" y="418" width="57" height="8.6" rx="3.4" fill="#000" stroke="none" />
<rect x="376" y="412.2" width="60" height="5.6" fill="#000" stroke="none" />
<rect x="438.2" y="357.8" width="9.8" height="74.6" rx="4.8" fill="#000" stroke="none" />
<rect x="431" y="372" width="4.9" height="45.8" fill="#000" stroke="none" />
<rect x="441.6" y="367" width="2.8" height="1" fill="#fff" stroke="none" />
<rect x="441.6" y="422" width="2.8" height="1" fill="#fff" stroke="none" />
<rect x="368.3" y="377.2" width="62.7" height="7.9" fill="#fff" stroke="none" />
<rect x="368.3" y="406.1" width="62.7" height="6.1" fill="#fff" stroke="none" />
<line x1="399" y1="380" x2="399" y2="385.1" stroke-width="1" />
<line x1="399" y1="406.1" x2="399" y2="409" stroke-width="1" />
<line x1="380" y1="349.3" x2="410" y2="349.3" stroke-width="1" />
<line x1="395" y1="334.3" x2="395" y2="364.3" stroke-width="1" />
<circle cx="395" cy="349.3" r="10.3" stroke="none" fill="#000"/>
<rect x="392.7" y="347.2" width="1.1" height="1.1" fill="#fff" stroke="none" />
<rect x="395.7" y="346.8" width="1.1" height="1.1" fill="#fff" stroke="none" />
<rect x="394.1" y="349" width="1.1" height="1.1" fill="#fff" stroke="none" />
<rect x="396.5" y="349.8" width="1.1" height="1.1" fill="#fff" stroke="none" />
<rect x="392.9" y="350.8" width="1.1" height="1.1" fill="#fff" stroke="none" />
<rect x="395.3" y="351" width="1.1" height="1.1" fill="#fff" stroke="none" />
<line x1="380" y1="441.3" x2="410" y2="441.3" stroke-width="1" />
<line x1="395" y1="426.3" x2="395" y2="456.3" stroke-width="1" />
<circle cx="395" cy="441.3" r="10.3" stroke="none" fill="#000"/>
<rect x="392.7" y="439.2" width="1.1" height="1.1" fill="#fff" stroke="none" />
<rect x="395.7" y="438.8" width="1.1" height="1.1" fill="#fff" stroke="none" />
<rect x="394.1" y="441" width="1.1" height="1.1" fill="#fff" stroke="none" />
<rect x="396.5" y="441.8" width="1.1" height="1.1" fill="#fff" stroke="none" />
<rect x="392.9" y="442.8" width="1.1" height="1.1" fill="#fff" stroke="none" />
<rect x="395.3" y="443" width="1.1" height="1.1" fill="#fff" stroke="none" />
<line x1="448.8" y1="378.7" x2="469.6" y2="378.7" stroke-width="1" />
<line x1="459.2" y1="368.3" x2="459.2" y2="389.1" stroke-width="1" />
<circle cx="459.2" cy="378.7" r="7.9" stroke="none" fill="#000"/>
<rect x="456.9" y="376.6" width="1.1" height="1.1" fill="#fff" stroke="none" />
<rect x="459.9" y="376.2" width="1.1" height="1.1" fill="#fff" stroke="none" />
<rect x="458.3" y="378.4" width="1.1" height="1.1" fill="#fff" stroke="none" />
<rect x="460.7" y="379.2" width="1.1" height="1.1" fill="#fff" stroke="none" />
<rect x="457.1" y="380.2" width="1.1" height="1.1" fill="#fff" stroke="none" />
<rect x="459.5" y="380.4" width="1.1" height="1.1" fill="#fff" stroke="none" />
<line x1="448.8" y1="411.5" x2="469.6" y2="411.5" stroke-width="1" />
<line x1="459.2" y1="401.1" x2="459.2" y2="421.9" stroke-width="1" />
<circle cx="459.2" cy="411.5" r="7.9" stroke="none" fill="#000"/>
<rect x="456.9" y="409.4" width="1.1" height="1.1" fill="#fff" stroke="none" />
<rect x="459.9" y="409" width="1.1" height="1.1" fill="#fff" stroke="none" />
<rect x="458.3" y="411.2" width="1.1" height="1.1" fill="#fff" stroke="none" />
<rect x="460.7" y="412" width="1.1" height="1.1" fill="#fff" stroke="none" />
<rect x="457.1" y="413" width="1.1" height="1.1" fill="#fff" stroke="none" />
<rect x="459.5" y="413.2" width="1.1" height="1.1" fill="#fff" stroke="none" />
<line x1="427" y1="439.5" x2="442.2" y2="439.5" stroke-width="1" />
<line x1="434.6" y1="431.9" x2="434.6" y2="447.1" stroke-width="1" />
<circle cx="434.6" cy="439.5" r="5.6" stroke="none" fill="#000"/>
<rect x="457.4" y="377.8" width="1.4" height="1.2" fill="#fff" stroke="none" />
<rect x="460" y="377.8" width="1.4" height="1.2" fill="#fff" stroke="none" />
<rect x="458.6" y="410" width="1.4" height="3.4" fill="#fff" stroke="none" />
</svg>
</body></html>
